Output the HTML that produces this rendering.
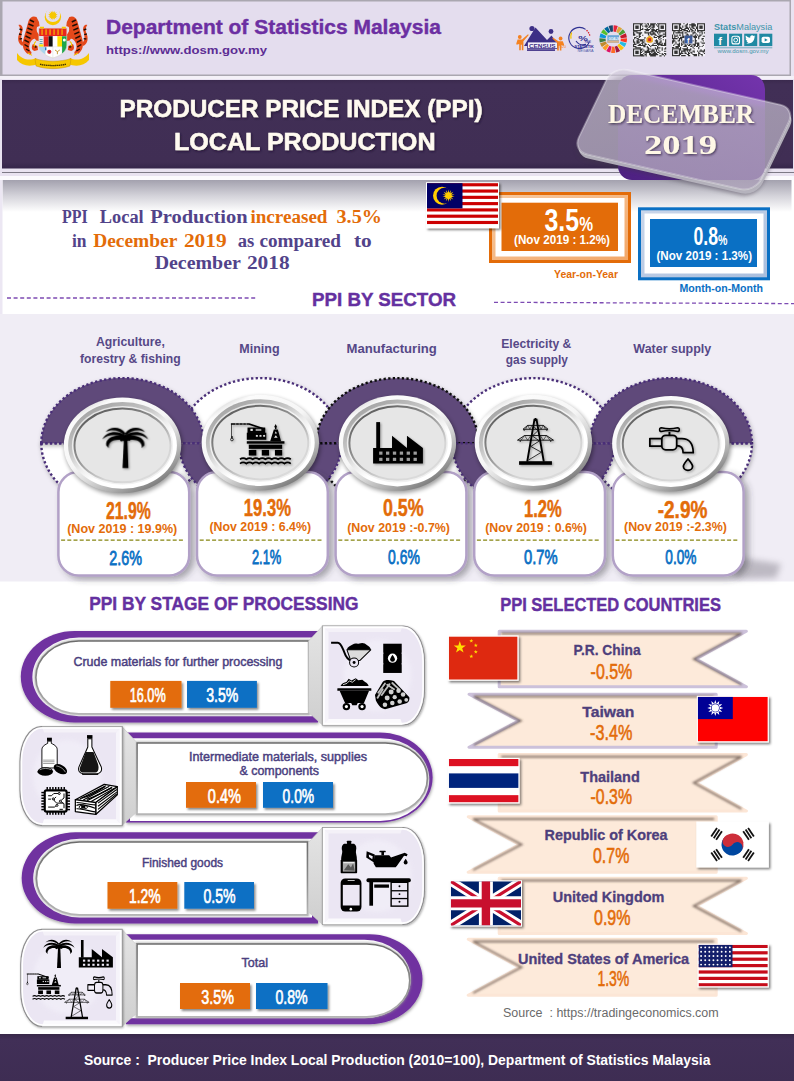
<!DOCTYPE html>
<html lang="en"><head><meta charset="utf-8"><title>Producer Price Index (PPI) Local Production - December 2019</title>
<style>
html,body{margin:0;padding:0;background:#fff;}
body{width:794px;height:1081px;overflow:hidden;}
svg{display:block;}
.ss{font-family:'Liberation Sans','DejaVu Sans',sans-serif;font-weight:bold;}
.rg{font-weight:normal !important;}
.sf{font-family:'Liberation Serif','DejaVu Serif',serif;font-weight:bold;}
</style></head><body>
<svg width="794" height="1081" viewBox="0 0 794 1081">
<defs>
<linearGradient id="gBanner" x1="0" y1="0" x2="0" y2="1"><stop offset="0" stop-color="#3b2a4e"/><stop offset="0.05" stop-color="#412f56"/><stop offset="0.93" stop-color="#402e54"/><stop offset="1" stop-color="#35264a"/></linearGradient>
<linearGradient id="gFoot" x1="0" y1="0" x2="0" y2="1"><stop offset="0" stop-color="#382848"/><stop offset="0.12" stop-color="#412f57"/><stop offset="1" stop-color="#3e2d53"/></linearGradient>
<linearGradient id="gBand" x1="0" y1="0" x2="0" y2="1"><stop offset="0" stop-color="#a3a1ae"/><stop offset="0.5" stop-color="#d4d3da"/><stop offset="1" stop-color="#ffffff"/></linearGradient>
<linearGradient id="gDecP" x1="1" y1="0" x2="0" y2="1"><stop offset="0" stop-color="#7434ad"/><stop offset="1" stop-color="#4c2080"/></linearGradient>
<linearGradient id="gOrFr" x1="0" y1="0" x2="1" y2="1"><stop offset="0" stop-color="#f7c9a0"/><stop offset="1" stop-color="#f2a768"/></linearGradient>
<linearGradient id="gBlFr" x1="0" y1="0" x2="1" y2="1"><stop offset="0" stop-color="#c9d6ea"/><stop offset="1" stop-color="#a9bedd"/></linearGradient>
<linearGradient id="gMedO" x1="0.18" y1="0.05" x2="0.82" y2="0.95"><stop offset="0" stop-color="#d2d2d2"/><stop offset="0.1" stop-color="#fbfbfb"/><stop offset="0.45" stop-color="#f6f6f6"/><stop offset="0.62" stop-color="#dadada"/><stop offset="0.8" stop-color="#aeaeae"/><stop offset="1" stop-color="#707070"/></linearGradient>
<linearGradient id="gMedR" x1="0.18" y1="0.05" x2="0.82" y2="0.95"><stop offset="0" stop-color="#a2a2a2"/><stop offset="0.32" stop-color="#c6c6c6"/><stop offset="0.5" stop-color="#ececec"/><stop offset="0.65" stop-color="#ffffff"/><stop offset="1" stop-color="#ffffff"/></linearGradient>
<linearGradient id="gMedI" x1="0.18" y1="0.05" x2="0.82" y2="0.95"><stop offset="0" stop-color="#e2e2e2"/><stop offset="0.4" stop-color="#f4f4f4"/><stop offset="1" stop-color="#f0f0f0"/></linearGradient>
<linearGradient id="gMedE" x1="0.18" y1="0.05" x2="0.82" y2="0.95"><stop offset="0" stop-color="#5c5c5c"/><stop offset="0.45" stop-color="#9a9a9a"/><stop offset="0.75" stop-color="#d4d4d4"/><stop offset="1" stop-color="#dcdcdc"/></linearGradient>
<linearGradient id="gSilver" x1="0" y1="0" x2="0" y2="1"><stop offset="0" stop-color="#6c6c6c"/><stop offset="0.5" stop-color="#8a8a8a"/><stop offset="1" stop-color="#b5b5b5"/></linearGradient>
<linearGradient id="gTrap" x1="0" y1="0" x2="0" y2="1"><stop offset="0" stop-color="#e4e4e4"/><stop offset="1" stop-color="#cfcfcf"/></linearGradient>
<filter id="blur1" x="-10%" y="-10%" width="120%" height="120%"><feGaussianBlur stdDeviation="0.8"/></filter>
<filter id="blur2" x="-20%" y="-20%" width="140%" height="140%"><feGaussianBlur stdDeviation="2.2"/></filter>
<filter id="tsh" x="-5%" y="-20%" width="110%" height="150%"><feDropShadow dx="1" dy="1.2" stdDeviation="0.9" flood-color="#1a0f26" flood-opacity="0.7"/></filter>
<filter id="fsh" x="-20%" y="-20%" width="150%" height="150%"><feDropShadow dx="1.6" dy="1.8" stdDeviation="1.3" flood-color="#000" flood-opacity="0.5"/></filter>
<filter id="vsh" x="-20%" y="-30%" width="150%" height="180%"><feDropShadow dx="1.6" dy="2" stdDeviation="1.3" flood-color="#000" flood-opacity="0.45"/></filter>
<filter id="ibsh" x="-10%" y="-10%" width="125%" height="125%"><feDropShadow dx="0.8" dy="1" stdDeviation="0.9" flood-color="#000" flood-opacity="0.35"/></filter>
<filter id="ringsh" x="-5%" y="-20%" width="110%" height="150%"><feDropShadow dx="1" dy="2" stdDeviation="2" flood-color="#000" flood-opacity="0.3"/></filter>
<filter id="boxsh" x="-5%" y="-10%" width="115%" height="130%"><feDropShadow dx="4" dy="3" stdDeviation="3" flood-color="#3a3440" flood-opacity="0.4"/></filter>
<filter id="icsh" x="-20%" y="-20%" width="150%" height="150%"><feDropShadow dx="14" dy="14" stdDeviation="12" flood-color="#000" flood-opacity="0.35"/></filter>
<linearGradient id="gGlass" x1="0" y1="0" x2="1" y2="1"><stop offset="0" stop-color="#d2cbdb" stop-opacity="0.66"/><stop offset="1" stop-color="#c6bad4" stop-opacity="0.66"/></linearGradient>
<filter id="pillsh" x="-5%" y="-15%" width="110%" height="135%"><feDropShadow dx="0.5" dy="1.5" stdDeviation="1.6" flood-color="#000" flood-opacity="0.38"/></filter>
<filter id="blur3" x="-30%" y="-50%" width="160%" height="200%"><feGaussianBlur stdDeviation="3.2"/></filter>
</defs>
<rect x="0" y="0" width="794" height="1081" fill="#ffffff"/>
<rect x="0" y="0" width="794" height="178" fill="#e9e3f1"/>
<rect x="0" y="0" width="791" height="76" fill="#aaa7b0"/>
<rect x="2.5" y="1.5" width="787" height="73" fill="#e4ddee"/>
<rect x="0" y="76" width="794" height="3" fill="#f4f1f8"/>
<rect x="2" y="80" width="791" height="88.5" fill="url(#gBanner)"/>
<rect x="2" y="172" width="792" height="1" fill="#7d7986"/>
<rect x="0" y="176" width="794" height="4.5" fill="#fbfafd"/>
<rect x="0" y="180" width="794" height="134" fill="#ffffff"/>
<rect x="2.5" y="180" width="789" height="32" fill="url(#gBand)"/>
<rect x="0" y="180" width="2.5" height="134" fill="#ece7f3"/>
<text class="ss" x="106" y="33.5" font-size="20.5" fill="#6c2fa2" text-anchor="start" textLength="335" lengthAdjust="spacingAndGlyphs" stroke="#6c2fa2" stroke-width="0.4">Department of Statistics Malaysia</text>
<text class="ss" x="106" y="53.5" font-size="11.5" fill="#5c2c94" text-anchor="start" textLength="161" lengthAdjust="spacingAndGlyphs">https://www.dosm.gov.my</text>
<text class="ss" x="119.5" y="117" font-size="24" fill="#fffaf0" text-anchor="start" textLength="363" lengthAdjust="spacingAndGlyphs" filter="url(#tsh)" stroke="#fffaf0" stroke-width="0.5">PRODUCER PRICE INDEX (PPI)</text>
<text class="ss" x="174" y="150" font-size="24.5" fill="#fffaf0" text-anchor="start" textLength="261.5" lengthAdjust="spacingAndGlyphs" filter="url(#tsh)" stroke="#fffaf0" stroke-width="0.5">LOCAL PRODUCTION</text>
<g><path d="M17,53 C22,60 30,61 36,58 L38,64 C30,67 22,66 17,60 Z" fill="#f6c700"/><path d="M89,53 C84,60 76,61 70,58 L68,64 C76,67 84,66 89,60 Z" fill="#f6c700"/><path d="M35,58.5 C45,62 61,62 71,58.5 L70,66 C60,69.5 46,69.5 36,66 Z" fill="#f6c700" stroke="#b8860b" stroke-width="0.4"/><path d="M40,64.2 C47,66 59,66 66,64.2" fill="none" stroke="#3a2a00" stroke-width="1.3" stroke-dasharray="1.4 0.5"/><path d="M36.5,17 C33,15.5 30,17 28.5,21 C27,27 25,33 23.5,39 C22,45 23,50 27,53.5 L31,55 L31.5,52 C29,50 28.5,46 30.5,42 C33,39 35,37.5 36,40.5 L39,41 L39.5,35 C37,33 36,30 37,27 L39.5,26 L39,22 Z" fill="#e4481a"/><path d="M22.5,46 C18,44 17,38 19.5,33 C21,30 20,27 18.5,25 C21,24 23.5,27 22.5,31 C21,35 20.5,40 23.5,43 Z" fill="#e4481a"/><path d="M33,44 C31,47 31.5,50 34.5,51 L38,50 L37.5,46 Z" fill="#e4481a"/><path d="M30,20 l4,2 M28.5,24 l5,2 M27.5,28 l5,2.2 M26.5,32 l5,2.2 M25.5,36 l5,2.4 M24.5,40 l4.5,2.4 M24.5,44.5 l4,2.4 M26,49 l3.4,2 M19.5,29 l2.6,1 M19,34 l2.6,0.6 M19.5,39 l2.6,-0.4 M34,46 l2.5,1.4" stroke="#1e0d04" stroke-width="1.45" fill="none"/><path d="M36,41.5 C34,43 33.5,45 35,46.5 M28,53 l4,2.4" stroke="#f6c700" stroke-width="1.1" fill="none"/><g transform="translate(105.8,0) scale(-1,1)"><path d="M36.5,17 C33,15.5 30,17 28.5,21 C27,27 25,33 23.5,39 C22,45 23,50 27,53.5 L31,55 L31.5,52 C29,50 28.5,46 30.5,42 C33,39 35,37.5 36,40.5 L39,41 L39.5,35 C37,33 36,30 37,27 L39.5,26 L39,22 Z" fill="#e4481a"/><path d="M22.5,46 C18,44 17,38 19.5,33 C21,30 20,27 18.5,25 C21,24 23.5,27 22.5,31 C21,35 20.5,40 23.5,43 Z" fill="#e4481a"/><path d="M33,44 C31,47 31.5,50 34.5,51 L38,50 L37.5,46 Z" fill="#e4481a"/><path d="M30,20 l4,2 M28.5,24 l5,2 M27.5,28 l5,2.2 M26.5,32 l5,2.2 M25.5,36 l5,2.4 M24.5,40 l4.5,2.4 M24.5,44.5 l4,2.4 M26,49 l3.4,2 M19.5,29 l2.6,1 M19,34 l2.6,0.6 M19.5,39 l2.6,-0.4 M34,46 l2.5,1.4" stroke="#1e0d04" stroke-width="1.45" fill="none"/><path d="M36,41.5 C34,43 33.5,45 35,46.5 M28,53 l4,2.4" stroke="#f6c700" stroke-width="1.1" fill="none"/></g><circle cx="52.9" cy="17" r="8.2" fill="#f6c700"/><circle cx="52.9" cy="14.8" r="7.3" fill="#e4ddee"/><polygon points="52.90,10.50 53.57,12.48 55.03,10.99 54.77,13.05 56.73,12.34 55.60,14.10 57.68,14.31 55.90,15.40 57.68,16.49 55.60,16.70 56.73,18.46 54.77,17.75 55.03,19.81 53.57,18.32 52.90,20.30 52.23,18.32 50.77,19.81 51.03,17.75 49.07,18.46 50.20,16.70 48.12,16.49 49.90,15.40 48.12,14.31 50.20,14.10 49.07,12.34 51.03,13.05 50.77,10.99 52.23,12.48" fill="#f6c700"/><path d="M38.9,28.2 H66.8 V45 C66.8,52 60,56 52.9,58 C45.8,56 38.9,52 38.9,45 Z" fill="#ffffff"/><rect x="38.9" y="28.2" width="27.9" height="8" fill="#e8261c"/><rect x="41.5" y="29.3" width="1.1" height="5.6" fill="#f6c700"/><rect x="45.5" y="29.3" width="1.1" height="5.6" fill="#f6c700"/><rect x="49.5" y="29.3" width="1.1" height="5.6" fill="#f6c700"/><rect x="53.5" y="29.3" width="1.1" height="5.6" fill="#f6c700"/><rect x="57.5" y="29.3" width="1.1" height="5.6" fill="#f6c700"/><rect x="61.5" y="29.3" width="1.1" height="5.6" fill="#f6c700"/><rect x="43.4" y="36.2" width="5.2" height="10.6" fill="#e8261c"/><rect x="48.6" y="36.2" width="4.2" height="10.6" fill="#111"/><rect x="52.8" y="36.2" width="4.6" height="10.6" fill="#fff"/><rect x="57.4" y="36.2" width="4.6" height="10.6" fill="#ffe000"/><path d="M38.9,36.2 H43.4 V46.8 H38.9 Z" fill="#dfeaf2"/><path d="M39.6,39.5 h3 M39.6,41.5 h3 M39.6,43.5 h3" stroke="#3a8a9a" stroke-width="0.7"/><rect x="38.9" y="44.4" width="4.5" height="2.4" fill="#ffe000"/><path d="M62,36.2 H66.8 V45 C66.8,49 65,51.5 62,53.6 Z" fill="#1fa64a"/><circle cx="64.3" cy="40" r="1.5" fill="#fff"/><path d="M38.9,46.8 H45.5 V54.6 C42,52.6 38.9,50 38.9,46.8 Z" fill="#a9d4ee"/><path d="M45.5,46.8 H53 V58 C50,57.2 47.5,56 45.5,54.6 Z" fill="#fff" stroke="#ccc" stroke-width="0.3"/><circle cx="49.3" cy="51.8" r="2.1" fill="#d81e2c"/><circle cx="49.3" cy="51.8" r="0.8" fill="#333"/><path d="M53,46.8 H62 V53.6 C59,55.8 56,57.2 53,58 Z" fill="#fff" stroke="#ccc" stroke-width="0.3"/><path d="M55,50 l2.4,1.6 l2.4,-1.6 M57.4,51.6 v2.6" stroke="#b8860b" stroke-width="0.8" fill="none"/><rect x="45" y="47.3" width="1.4" height="3" fill="#2a6fc0"/><path d="M38.9,28.2 H66.8 V45 C66.8,52 60,56 52.9,58 C45.8,56 38.9,52 38.9,45 Z" fill="none" stroke="#d9d4cc" stroke-width="0.5"/><path d="M40,27.6 h4 M61.8,27.6 h4" stroke="#f6c700" stroke-width="1.6"/></g>
<path d="M524,46 L535.5,27.5 L547,40 L551.5,35.5 L559,46 Z" fill="#3d2f86"/><circle cx="532" cy="28.5" r="2.6" fill="#3d2f86"/><circle cx="551" cy="31.5" r="2.4" fill="#3d2f86"/><rect x="527.5" y="42" width="30" height="6.5" fill="#f3f0f8" stroke="#3d2f86" stroke-width="0.8"/><text class="ss" x="529" y="47.6" font-size="5.6" fill="#3d2f86" text-anchor="start" textLength="26.5" lengthAdjust="spacingAndGlyphs">CENSUS</text>
<rect x="527" y="49.3" width="28" height="1.6" fill="#3d2f86"/><circle cx="519.8" cy="37" r="1.9" fill="#f58220"/><path d="M517.6,39.6 h4.4 l6,-5.4 l0.8,0.9 l-5.4,6.2 v9 h-1.6 v-5.6 h-1 v5.6 h-1.6 v-6.4 l-2.6,0.8 l-0.3,-1.2 Z" fill="#f58220"/><circle cx="560.6" cy="38.5" r="1.9" fill="#f58220"/><path d="M562.8,41.2 h-4.4 l-5.4,-3.8 l-0.7,1 l4.9,4.6 v7.6 h1.6 v-4.8 h1 v4.8 h1.6 v-5.6 l2.4,0.8 l0.3,-1.2 Z" fill="#f58220"/><text class="ss rg" x="558" y="48.4" font-size="3.6" fill="#f58220">2020</text><path d="M585.6,29.4 A10.6,10.6 0 1 0 589.4,41.6" fill="none" stroke="#2e3192" stroke-width="1.1"/><path d="M571.6,32.6 A10.6,10.6 0 0 0 571,38.6" fill="none" stroke="#f4c400" stroke-width="1.4"/><path d="M586.5,30.2 A10.6,10.6 0 0 1 589.8,35.6" fill="none" stroke="#d8232a" stroke-width="1.3" stroke-dasharray="1.5 1"/><text class="ss" x="578.2" y="40.6" font-size="7.6" fill="#2e3192" text-anchor="start" textLength="9.6" lengthAdjust="spacingAndGlyphs">%</text>
<path d="M576,41 C578,44 582,45.6 586,44.4" fill="none" stroke="#2e3192" stroke-width="1.1"/><text class="ss rg" x="584.8" y="43.4" font-size="2.6" fill="#2e3192">HARI</text><text class="ss" x="574.6" y="47.8" font-size="4.1" fill="#2e3192" text-anchor="start" textLength="19.2" lengthAdjust="spacingAndGlyphs">STATISTIK</text>
<text class="ss rg" x="577.6" y="51.8" font-size="3.4" fill="#4a5aa8" textLength="16" lengthAdjust="spacingAndGlyphs">NEGARA</text><path d="M613.61,25.31 A13.8,13.8 0 0 1 617.80,26.09 L615.73,31.93 A7.6,7.6 0 0 0 613.43,31.50 Z" fill="#e5243b"/><path d="M618.57,26.39 A13.8,13.8 0 0 1 622.19,28.63 L618.15,33.33 A7.6,7.6 0 0 0 616.16,32.10 Z" fill="#dda63a"/><path d="M622.80,29.19 A13.8,13.8 0 0 1 625.36,32.58 L619.90,35.51 A7.6,7.6 0 0 0 618.49,33.64 Z" fill="#4c9f38"/><path d="M625.73,33.32 A13.8,13.8 0 0 1 626.90,37.42 L620.74,38.17 A7.6,7.6 0 0 0 620.10,35.92 Z" fill="#c5192d"/><path d="M626.97,38.24 A13.8,13.8 0 0 1 626.58,42.48 L620.57,40.96 A7.6,7.6 0 0 0 620.79,38.63 Z" fill="#ff3a21"/><path d="M626.35,43.27 A13.8,13.8 0 0 1 624.46,47.08 L619.40,43.50 A7.6,7.6 0 0 0 620.44,41.40 Z" fill="#26bde2"/><path d="M623.96,47.74 A13.8,13.8 0 0 1 620.81,50.61 L617.39,45.44 A7.6,7.6 0 0 0 619.12,43.86 Z" fill="#fcc30b"/><path d="M620.11,51.05 A13.8,13.8 0 0 1 616.14,52.58 L614.82,46.53 A7.6,7.6 0 0 0 617.01,45.68 Z" fill="#a21942"/><path d="M615.33,52.73 A13.8,13.8 0 0 1 611.07,52.73 L612.03,46.61 A7.6,7.6 0 0 0 614.37,46.61 Z" fill="#fd6925"/><path d="M610.26,52.58 A13.8,13.8 0 0 1 606.29,51.05 L609.39,45.68 A7.6,7.6 0 0 0 611.58,46.53 Z" fill="#dd1367"/><path d="M605.59,50.61 A13.8,13.8 0 0 1 602.44,47.74 L607.28,43.86 A7.6,7.6 0 0 0 609.01,45.44 Z" fill="#fd9d24"/><path d="M601.94,47.08 A13.8,13.8 0 0 1 600.05,43.27 L605.96,41.40 A7.6,7.6 0 0 0 607.00,43.50 Z" fill="#bf8b2e"/><path d="M599.82,42.48 A13.8,13.8 0 0 1 599.43,38.24 L605.61,38.63 A7.6,7.6 0 0 0 605.83,40.96 Z" fill="#3f7e44"/><path d="M599.50,37.42 A13.8,13.8 0 0 1 600.67,33.32 L606.30,35.92 A7.6,7.6 0 0 0 605.66,38.17 Z" fill="#0a97d9"/><path d="M601.04,32.58 A13.8,13.8 0 0 1 603.60,29.19 L607.91,33.64 A7.6,7.6 0 0 0 606.50,35.51 Z" fill="#56c02b"/><path d="M604.21,28.63 A13.8,13.8 0 0 1 607.83,26.39 L610.24,32.10 A7.6,7.6 0 0 0 608.25,33.33 Z" fill="#00689d"/><path d="M608.60,26.09 A13.8,13.8 0 0 1 612.79,25.31 L612.97,31.50 A7.6,7.6 0 0 0 610.67,31.93 Z" fill="#19486a"/><rect x="607.4" y="35.2" width="11.6" height="7.6" fill="#6aa6d8"/><rect x="607.4" y="40.4" width="11.6" height="2.4" fill="#d9b38c"/><text class="ss" x="608.4" y="39.6" font-size="3" fill="#fff">GOALS</text><rect x="633" y="23.2" width="33.2" height="33.2" fill="#f4f2f7"/><path d="M641.01,23.20h1.14v1.14h-1.14zM642.16,23.20h1.14v1.14h-1.14zM644.45,23.20h1.14v1.14h-1.14zM646.74,23.20h1.14v1.14h-1.14zM647.88,23.20h1.14v1.14h-1.14zM650.17,23.20h1.14v1.14h-1.14zM651.32,23.20h1.14v1.14h-1.14zM652.46,23.20h1.14v1.14h-1.14zM653.61,23.20h1.14v1.14h-1.14zM654.75,23.20h1.14v1.14h-1.14zM657.04,23.20h1.14v1.14h-1.14zM641.01,24.34h1.14v1.14h-1.14zM645.59,24.34h1.14v1.14h-1.14zM647.88,24.34h1.14v1.14h-1.14zM650.17,24.34h1.14v1.14h-1.14zM651.32,24.34h1.14v1.14h-1.14zM652.46,24.34h1.14v1.14h-1.14zM653.61,24.34h1.14v1.14h-1.14zM655.90,24.34h1.14v1.14h-1.14zM642.16,25.49h1.14v1.14h-1.14zM644.45,25.49h1.14v1.14h-1.14zM645.59,25.49h1.14v1.14h-1.14zM646.74,25.49h1.14v1.14h-1.14zM649.03,25.49h1.14v1.14h-1.14zM650.17,25.49h1.14v1.14h-1.14zM652.46,25.49h1.14v1.14h-1.14zM653.61,25.49h1.14v1.14h-1.14zM657.04,25.49h1.14v1.14h-1.14zM645.59,26.63h1.14v1.14h-1.14zM647.88,26.63h1.14v1.14h-1.14zM649.03,26.63h1.14v1.14h-1.14zM651.32,26.63h1.14v1.14h-1.14zM652.46,26.63h1.14v1.14h-1.14zM653.61,26.63h1.14v1.14h-1.14zM642.16,27.78h1.14v1.14h-1.14zM646.74,27.78h1.14v1.14h-1.14zM650.17,27.78h1.14v1.14h-1.14zM652.46,27.78h1.14v1.14h-1.14zM641.01,28.92h1.14v1.14h-1.14zM642.16,28.92h1.14v1.14h-1.14zM644.45,28.92h1.14v1.14h-1.14zM645.59,28.92h1.14v1.14h-1.14zM646.74,28.92h1.14v1.14h-1.14zM647.88,28.92h1.14v1.14h-1.14zM649.03,28.92h1.14v1.14h-1.14zM651.32,28.92h1.14v1.14h-1.14zM652.46,28.92h1.14v1.14h-1.14zM653.61,28.92h1.14v1.14h-1.14zM655.90,28.92h1.14v1.14h-1.14zM657.04,28.92h1.14v1.14h-1.14zM645.59,30.07h1.14v1.14h-1.14zM646.74,30.07h1.14v1.14h-1.14zM647.88,30.07h1.14v1.14h-1.14zM651.32,30.07h1.14v1.14h-1.14zM652.46,30.07h1.14v1.14h-1.14zM653.61,30.07h1.14v1.14h-1.14zM654.75,30.07h1.14v1.14h-1.14zM655.90,30.07h1.14v1.14h-1.14zM633.00,31.21h1.14v1.14h-1.14zM634.14,31.21h1.14v1.14h-1.14zM635.29,31.21h1.14v1.14h-1.14zM636.43,31.21h1.14v1.14h-1.14zM644.45,31.21h1.14v1.14h-1.14zM650.17,31.21h1.14v1.14h-1.14zM651.32,31.21h1.14v1.14h-1.14zM652.46,31.21h1.14v1.14h-1.14zM654.75,31.21h1.14v1.14h-1.14zM655.90,31.21h1.14v1.14h-1.14zM657.04,31.21h1.14v1.14h-1.14zM658.19,31.21h1.14v1.14h-1.14zM659.33,31.21h1.14v1.14h-1.14zM660.48,31.21h1.14v1.14h-1.14zM661.62,31.21h1.14v1.14h-1.14zM662.77,31.21h1.14v1.14h-1.14zM663.91,31.21h1.14v1.14h-1.14zM665.06,31.21h1.14v1.14h-1.14zM633.00,32.36h1.14v1.14h-1.14zM636.43,32.36h1.14v1.14h-1.14zM637.58,32.36h1.14v1.14h-1.14zM638.72,32.36h1.14v1.14h-1.14zM639.87,32.36h1.14v1.14h-1.14zM641.01,32.36h1.14v1.14h-1.14zM644.45,32.36h1.14v1.14h-1.14zM645.59,32.36h1.14v1.14h-1.14zM646.74,32.36h1.14v1.14h-1.14zM647.88,32.36h1.14v1.14h-1.14zM649.03,32.36h1.14v1.14h-1.14zM650.17,32.36h1.14v1.14h-1.14zM652.46,32.36h1.14v1.14h-1.14zM653.61,32.36h1.14v1.14h-1.14zM657.04,32.36h1.14v1.14h-1.14zM659.33,32.36h1.14v1.14h-1.14zM665.06,32.36h1.14v1.14h-1.14zM633.00,33.50h1.14v1.14h-1.14zM634.14,33.50h1.14v1.14h-1.14zM638.72,33.50h1.14v1.14h-1.14zM639.87,33.50h1.14v1.14h-1.14zM647.88,33.50h1.14v1.14h-1.14zM650.17,33.50h1.14v1.14h-1.14zM651.32,33.50h1.14v1.14h-1.14zM652.46,33.50h1.14v1.14h-1.14zM653.61,33.50h1.14v1.14h-1.14zM654.75,33.50h1.14v1.14h-1.14zM658.19,33.50h1.14v1.14h-1.14zM662.77,33.50h1.14v1.14h-1.14zM663.91,33.50h1.14v1.14h-1.14zM665.06,33.50h1.14v1.14h-1.14zM633.00,34.65h1.14v1.14h-1.14zM634.14,34.65h1.14v1.14h-1.14zM638.72,34.65h1.14v1.14h-1.14zM642.16,34.65h1.14v1.14h-1.14zM647.88,34.65h1.14v1.14h-1.14zM649.03,34.65h1.14v1.14h-1.14zM651.32,34.65h1.14v1.14h-1.14zM654.75,34.65h1.14v1.14h-1.14zM655.90,34.65h1.14v1.14h-1.14zM659.33,34.65h1.14v1.14h-1.14zM660.48,34.65h1.14v1.14h-1.14zM661.62,34.65h1.14v1.14h-1.14zM665.06,34.65h1.14v1.14h-1.14zM636.43,35.79h1.14v1.14h-1.14zM638.72,35.79h1.14v1.14h-1.14zM639.87,35.79h1.14v1.14h-1.14zM653.61,35.79h1.14v1.14h-1.14zM657.04,35.79h1.14v1.14h-1.14zM658.19,35.79h1.14v1.14h-1.14zM659.33,35.79h1.14v1.14h-1.14zM660.48,35.79h1.14v1.14h-1.14zM662.77,35.79h1.14v1.14h-1.14zM663.91,35.79h1.14v1.14h-1.14zM665.06,35.79h1.14v1.14h-1.14zM634.14,36.94h1.14v1.14h-1.14zM635.29,36.94h1.14v1.14h-1.14zM638.72,36.94h1.14v1.14h-1.14zM644.45,36.94h1.14v1.14h-1.14zM653.61,36.94h1.14v1.14h-1.14zM654.75,36.94h1.14v1.14h-1.14zM655.90,36.94h1.14v1.14h-1.14zM658.19,36.94h1.14v1.14h-1.14zM659.33,36.94h1.14v1.14h-1.14zM662.77,36.94h1.14v1.14h-1.14zM634.14,38.08h1.14v1.14h-1.14zM636.43,38.08h1.14v1.14h-1.14zM637.58,38.08h1.14v1.14h-1.14zM644.45,38.08h1.14v1.14h-1.14zM658.19,38.08h1.14v1.14h-1.14zM660.48,38.08h1.14v1.14h-1.14zM633.00,39.23h1.14v1.14h-1.14zM637.58,39.23h1.14v1.14h-1.14zM638.72,39.23h1.14v1.14h-1.14zM639.87,39.23h1.14v1.14h-1.14zM641.01,39.23h1.14v1.14h-1.14zM642.16,39.23h1.14v1.14h-1.14zM643.30,39.23h1.14v1.14h-1.14zM655.90,39.23h1.14v1.14h-1.14zM659.33,39.23h1.14v1.14h-1.14zM662.77,39.23h1.14v1.14h-1.14zM665.06,39.23h1.14v1.14h-1.14zM633.00,40.37h1.14v1.14h-1.14zM636.43,40.37h1.14v1.14h-1.14zM637.58,40.37h1.14v1.14h-1.14zM639.87,40.37h1.14v1.14h-1.14zM641.01,40.37h1.14v1.14h-1.14zM642.16,40.37h1.14v1.14h-1.14zM644.45,40.37h1.14v1.14h-1.14zM654.75,40.37h1.14v1.14h-1.14zM655.90,40.37h1.14v1.14h-1.14zM657.04,40.37h1.14v1.14h-1.14zM660.48,40.37h1.14v1.14h-1.14zM665.06,40.37h1.14v1.14h-1.14zM633.00,41.52h1.14v1.14h-1.14zM634.14,41.52h1.14v1.14h-1.14zM636.43,41.52h1.14v1.14h-1.14zM637.58,41.52h1.14v1.14h-1.14zM638.72,41.52h1.14v1.14h-1.14zM642.16,41.52h1.14v1.14h-1.14zM643.30,41.52h1.14v1.14h-1.14zM655.90,41.52h1.14v1.14h-1.14zM657.04,41.52h1.14v1.14h-1.14zM659.33,41.52h1.14v1.14h-1.14zM660.48,41.52h1.14v1.14h-1.14zM665.06,41.52h1.14v1.14h-1.14zM634.14,42.66h1.14v1.14h-1.14zM636.43,42.66h1.14v1.14h-1.14zM637.58,42.66h1.14v1.14h-1.14zM641.01,42.66h1.14v1.14h-1.14zM642.16,42.66h1.14v1.14h-1.14zM644.45,42.66h1.14v1.14h-1.14zM653.61,42.66h1.14v1.14h-1.14zM654.75,42.66h1.14v1.14h-1.14zM655.90,42.66h1.14v1.14h-1.14zM657.04,42.66h1.14v1.14h-1.14zM658.19,42.66h1.14v1.14h-1.14zM659.33,42.66h1.14v1.14h-1.14zM661.62,42.66h1.14v1.14h-1.14zM663.91,42.66h1.14v1.14h-1.14zM665.06,42.66h1.14v1.14h-1.14zM633.00,43.81h1.14v1.14h-1.14zM634.14,43.81h1.14v1.14h-1.14zM635.29,43.81h1.14v1.14h-1.14zM638.72,43.81h1.14v1.14h-1.14zM639.87,43.81h1.14v1.14h-1.14zM642.16,43.81h1.14v1.14h-1.14zM644.45,43.81h1.14v1.14h-1.14zM645.59,43.81h1.14v1.14h-1.14zM647.88,43.81h1.14v1.14h-1.14zM652.46,43.81h1.14v1.14h-1.14zM657.04,43.81h1.14v1.14h-1.14zM658.19,43.81h1.14v1.14h-1.14zM659.33,43.81h1.14v1.14h-1.14zM660.48,43.81h1.14v1.14h-1.14zM661.62,43.81h1.14v1.14h-1.14zM663.91,43.81h1.14v1.14h-1.14zM665.06,43.81h1.14v1.14h-1.14zM633.00,44.95h1.14v1.14h-1.14zM637.58,44.95h1.14v1.14h-1.14zM638.72,44.95h1.14v1.14h-1.14zM639.87,44.95h1.14v1.14h-1.14zM641.01,44.95h1.14v1.14h-1.14zM642.16,44.95h1.14v1.14h-1.14zM643.30,44.95h1.14v1.14h-1.14zM644.45,44.95h1.14v1.14h-1.14zM649.03,44.95h1.14v1.14h-1.14zM651.32,44.95h1.14v1.14h-1.14zM652.46,44.95h1.14v1.14h-1.14zM653.61,44.95h1.14v1.14h-1.14zM654.75,44.95h1.14v1.14h-1.14zM655.90,44.95h1.14v1.14h-1.14zM658.19,44.95h1.14v1.14h-1.14zM660.48,44.95h1.14v1.14h-1.14zM661.62,44.95h1.14v1.14h-1.14zM662.77,44.95h1.14v1.14h-1.14zM663.91,44.95h1.14v1.14h-1.14zM665.06,44.95h1.14v1.14h-1.14zM633.00,46.10h1.14v1.14h-1.14zM634.14,46.10h1.14v1.14h-1.14zM635.29,46.10h1.14v1.14h-1.14zM643.30,46.10h1.14v1.14h-1.14zM644.45,46.10h1.14v1.14h-1.14zM646.74,46.10h1.14v1.14h-1.14zM650.17,46.10h1.14v1.14h-1.14zM657.04,46.10h1.14v1.14h-1.14zM635.29,47.24h1.14v1.14h-1.14zM636.43,47.24h1.14v1.14h-1.14zM637.58,47.24h1.14v1.14h-1.14zM638.72,47.24h1.14v1.14h-1.14zM639.87,47.24h1.14v1.14h-1.14zM646.74,47.24h1.14v1.14h-1.14zM647.88,47.24h1.14v1.14h-1.14zM654.75,47.24h1.14v1.14h-1.14zM657.04,47.24h1.14v1.14h-1.14zM658.19,47.24h1.14v1.14h-1.14zM659.33,47.24h1.14v1.14h-1.14zM661.62,47.24h1.14v1.14h-1.14zM665.06,47.24h1.14v1.14h-1.14zM641.01,48.39h1.14v1.14h-1.14zM642.16,48.39h1.14v1.14h-1.14zM647.88,48.39h1.14v1.14h-1.14zM649.03,48.39h1.14v1.14h-1.14zM650.17,48.39h1.14v1.14h-1.14zM652.46,48.39h1.14v1.14h-1.14zM654.75,48.39h1.14v1.14h-1.14zM655.90,48.39h1.14v1.14h-1.14zM657.04,48.39h1.14v1.14h-1.14zM661.62,48.39h1.14v1.14h-1.14zM663.91,48.39h1.14v1.14h-1.14zM665.06,48.39h1.14v1.14h-1.14zM641.01,49.53h1.14v1.14h-1.14zM643.30,49.53h1.14v1.14h-1.14zM646.74,49.53h1.14v1.14h-1.14zM647.88,49.53h1.14v1.14h-1.14zM651.32,49.53h1.14v1.14h-1.14zM652.46,49.53h1.14v1.14h-1.14zM653.61,49.53h1.14v1.14h-1.14zM655.90,49.53h1.14v1.14h-1.14zM658.19,49.53h1.14v1.14h-1.14zM661.62,49.53h1.14v1.14h-1.14zM642.16,50.68h1.14v1.14h-1.14zM644.45,50.68h1.14v1.14h-1.14zM645.59,50.68h1.14v1.14h-1.14zM646.74,50.68h1.14v1.14h-1.14zM647.88,50.68h1.14v1.14h-1.14zM649.03,50.68h1.14v1.14h-1.14zM650.17,50.68h1.14v1.14h-1.14zM651.32,50.68h1.14v1.14h-1.14zM652.46,50.68h1.14v1.14h-1.14zM653.61,50.68h1.14v1.14h-1.14zM655.90,50.68h1.14v1.14h-1.14zM659.33,50.68h1.14v1.14h-1.14zM663.91,50.68h1.14v1.14h-1.14zM665.06,50.68h1.14v1.14h-1.14zM641.01,51.82h1.14v1.14h-1.14zM644.45,51.82h1.14v1.14h-1.14zM645.59,51.82h1.14v1.14h-1.14zM646.74,51.82h1.14v1.14h-1.14zM647.88,51.82h1.14v1.14h-1.14zM649.03,51.82h1.14v1.14h-1.14zM651.32,51.82h1.14v1.14h-1.14zM653.61,51.82h1.14v1.14h-1.14zM654.75,51.82h1.14v1.14h-1.14zM657.04,51.82h1.14v1.14h-1.14zM658.19,51.82h1.14v1.14h-1.14zM643.30,52.97h1.14v1.14h-1.14zM645.59,52.97h1.14v1.14h-1.14zM649.03,52.97h1.14v1.14h-1.14zM650.17,52.97h1.14v1.14h-1.14zM652.46,52.97h1.14v1.14h-1.14zM653.61,52.97h1.14v1.14h-1.14zM654.75,52.97h1.14v1.14h-1.14zM655.90,52.97h1.14v1.14h-1.14zM659.33,52.97h1.14v1.14h-1.14zM661.62,52.97h1.14v1.14h-1.14zM663.91,52.97h1.14v1.14h-1.14zM665.06,52.97h1.14v1.14h-1.14zM641.01,54.11h1.14v1.14h-1.14zM642.16,54.11h1.14v1.14h-1.14zM644.45,54.11h1.14v1.14h-1.14zM645.59,54.11h1.14v1.14h-1.14zM649.03,54.11h1.14v1.14h-1.14zM650.17,54.11h1.14v1.14h-1.14zM651.32,54.11h1.14v1.14h-1.14zM652.46,54.11h1.14v1.14h-1.14zM653.61,54.11h1.14v1.14h-1.14zM654.75,54.11h1.14v1.14h-1.14zM655.90,54.11h1.14v1.14h-1.14zM657.04,54.11h1.14v1.14h-1.14zM661.62,54.11h1.14v1.14h-1.14zM662.77,54.11h1.14v1.14h-1.14zM665.06,54.11h1.14v1.14h-1.14zM641.01,55.26h1.14v1.14h-1.14zM642.16,55.26h1.14v1.14h-1.14zM643.30,55.26h1.14v1.14h-1.14zM645.59,55.26h1.14v1.14h-1.14zM650.17,55.26h1.14v1.14h-1.14zM651.32,55.26h1.14v1.14h-1.14zM652.46,55.26h1.14v1.14h-1.14zM653.61,55.26h1.14v1.14h-1.14zM654.75,55.26h1.14v1.14h-1.14zM659.33,55.26h1.14v1.14h-1.14zM660.48,55.26h1.14v1.14h-1.14zM663.91,55.26h1.14v1.14h-1.14z" fill="#333"/><rect x="633.57" y="23.77" width="6.87" height="6.87" fill="none" stroke="#333" stroke-width="1.14"/><rect x="635.29" y="25.49" width="3.43" height="3.43" fill="#333"/><rect x="658.76" y="23.77" width="6.87" height="6.87" fill="none" stroke="#333" stroke-width="1.14"/><rect x="660.48" y="25.49" width="3.43" height="3.43" fill="#333"/><rect x="633.57" y="48.96" width="6.87" height="6.87" fill="none" stroke="#333" stroke-width="1.14"/><rect x="635.29" y="50.68" width="3.43" height="3.43" fill="#333"/><circle cx="649.6" cy="39.8" r="4.4" fill="#f4f2f7"/><path d="M646.4,38 l3.2,-2.4 l3.2,2.4 v3.8 c-1,1.4 -5.4,1.4 -6.4,0 Z" fill="#e9a21c"/><rect x="648.2" y="38.2" width="2.8" height="3" fill="#d8232a"/><rect x="672" y="23.2" width="33" height="33" fill="#f4f2f7"/><path d="M679.97,23.20h1.14v1.14h-1.14zM683.38,23.20h1.14v1.14h-1.14zM686.79,23.20h1.14v1.14h-1.14zM691.34,23.20h1.14v1.14h-1.14zM692.48,23.20h1.14v1.14h-1.14zM693.62,23.20h1.14v1.14h-1.14zM679.97,24.34h1.14v1.14h-1.14zM685.66,24.34h1.14v1.14h-1.14zM686.79,24.34h1.14v1.14h-1.14zM689.07,24.34h1.14v1.14h-1.14zM690.21,24.34h1.14v1.14h-1.14zM691.34,24.34h1.14v1.14h-1.14zM692.48,24.34h1.14v1.14h-1.14zM693.62,24.34h1.14v1.14h-1.14zM694.76,24.34h1.14v1.14h-1.14zM682.24,25.48h1.14v1.14h-1.14zM684.52,25.48h1.14v1.14h-1.14zM685.66,25.48h1.14v1.14h-1.14zM691.34,25.48h1.14v1.14h-1.14zM692.48,25.48h1.14v1.14h-1.14zM693.62,25.48h1.14v1.14h-1.14zM694.76,25.48h1.14v1.14h-1.14zM679.97,26.61h1.14v1.14h-1.14zM682.24,26.61h1.14v1.14h-1.14zM685.66,26.61h1.14v1.14h-1.14zM686.79,26.61h1.14v1.14h-1.14zM689.07,26.61h1.14v1.14h-1.14zM691.34,26.61h1.14v1.14h-1.14zM692.48,26.61h1.14v1.14h-1.14zM695.90,26.61h1.14v1.14h-1.14zM679.97,27.75h1.14v1.14h-1.14zM681.10,27.75h1.14v1.14h-1.14zM684.52,27.75h1.14v1.14h-1.14zM685.66,27.75h1.14v1.14h-1.14zM686.79,27.75h1.14v1.14h-1.14zM687.93,27.75h1.14v1.14h-1.14zM690.21,27.75h1.14v1.14h-1.14zM692.48,27.75h1.14v1.14h-1.14zM693.62,27.75h1.14v1.14h-1.14zM695.90,27.75h1.14v1.14h-1.14zM681.10,28.89h1.14v1.14h-1.14zM682.24,28.89h1.14v1.14h-1.14zM683.38,28.89h1.14v1.14h-1.14zM684.52,28.89h1.14v1.14h-1.14zM687.93,28.89h1.14v1.14h-1.14zM690.21,28.89h1.14v1.14h-1.14zM691.34,28.89h1.14v1.14h-1.14zM694.76,28.89h1.14v1.14h-1.14zM679.97,30.03h1.14v1.14h-1.14zM681.10,30.03h1.14v1.14h-1.14zM683.38,30.03h1.14v1.14h-1.14zM684.52,30.03h1.14v1.14h-1.14zM685.66,30.03h1.14v1.14h-1.14zM686.79,30.03h1.14v1.14h-1.14zM689.07,30.03h1.14v1.14h-1.14zM691.34,30.03h1.14v1.14h-1.14zM692.48,30.03h1.14v1.14h-1.14zM694.76,30.03h1.14v1.14h-1.14zM673.14,31.17h1.14v1.14h-1.14zM674.28,31.17h1.14v1.14h-1.14zM677.69,31.17h1.14v1.14h-1.14zM678.83,31.17h1.14v1.14h-1.14zM682.24,31.17h1.14v1.14h-1.14zM686.79,31.17h1.14v1.14h-1.14zM687.93,31.17h1.14v1.14h-1.14zM689.07,31.17h1.14v1.14h-1.14zM691.34,31.17h1.14v1.14h-1.14zM693.62,31.17h1.14v1.14h-1.14zM697.03,31.17h1.14v1.14h-1.14zM698.17,31.17h1.14v1.14h-1.14zM700.45,31.17h1.14v1.14h-1.14zM701.59,31.17h1.14v1.14h-1.14zM673.14,32.30h1.14v1.14h-1.14zM675.41,32.30h1.14v1.14h-1.14zM676.55,32.30h1.14v1.14h-1.14zM677.69,32.30h1.14v1.14h-1.14zM678.83,32.30h1.14v1.14h-1.14zM679.97,32.30h1.14v1.14h-1.14zM681.10,32.30h1.14v1.14h-1.14zM682.24,32.30h1.14v1.14h-1.14zM684.52,32.30h1.14v1.14h-1.14zM685.66,32.30h1.14v1.14h-1.14zM692.48,32.30h1.14v1.14h-1.14zM693.62,32.30h1.14v1.14h-1.14zM694.76,32.30h1.14v1.14h-1.14zM699.31,32.30h1.14v1.14h-1.14zM701.59,32.30h1.14v1.14h-1.14zM703.86,32.30h1.14v1.14h-1.14zM673.14,33.44h1.14v1.14h-1.14zM682.24,33.44h1.14v1.14h-1.14zM686.79,33.44h1.14v1.14h-1.14zM692.48,33.44h1.14v1.14h-1.14zM695.90,33.44h1.14v1.14h-1.14zM701.59,33.44h1.14v1.14h-1.14zM672.00,34.58h1.14v1.14h-1.14zM674.28,34.58h1.14v1.14h-1.14zM676.55,34.58h1.14v1.14h-1.14zM678.83,34.58h1.14v1.14h-1.14zM679.97,34.58h1.14v1.14h-1.14zM682.24,34.58h1.14v1.14h-1.14zM685.66,34.58h1.14v1.14h-1.14zM686.79,34.58h1.14v1.14h-1.14zM687.93,34.58h1.14v1.14h-1.14zM690.21,34.58h1.14v1.14h-1.14zM691.34,34.58h1.14v1.14h-1.14zM694.76,34.58h1.14v1.14h-1.14zM697.03,34.58h1.14v1.14h-1.14zM699.31,34.58h1.14v1.14h-1.14zM700.45,34.58h1.14v1.14h-1.14zM672.00,35.72h1.14v1.14h-1.14zM674.28,35.72h1.14v1.14h-1.14zM675.41,35.72h1.14v1.14h-1.14zM676.55,35.72h1.14v1.14h-1.14zM682.24,35.72h1.14v1.14h-1.14zM683.38,35.72h1.14v1.14h-1.14zM692.48,35.72h1.14v1.14h-1.14zM693.62,35.72h1.14v1.14h-1.14zM694.76,35.72h1.14v1.14h-1.14zM695.90,35.72h1.14v1.14h-1.14zM698.17,35.72h1.14v1.14h-1.14zM699.31,35.72h1.14v1.14h-1.14zM702.72,35.72h1.14v1.14h-1.14zM703.86,35.72h1.14v1.14h-1.14zM672.00,36.86h1.14v1.14h-1.14zM674.28,36.86h1.14v1.14h-1.14zM677.69,36.86h1.14v1.14h-1.14zM679.97,36.86h1.14v1.14h-1.14zM681.10,36.86h1.14v1.14h-1.14zM682.24,36.86h1.14v1.14h-1.14zM683.38,36.86h1.14v1.14h-1.14zM693.62,36.86h1.14v1.14h-1.14zM694.76,36.86h1.14v1.14h-1.14zM695.90,36.86h1.14v1.14h-1.14zM698.17,36.86h1.14v1.14h-1.14zM672.00,37.99h1.14v1.14h-1.14zM673.14,37.99h1.14v1.14h-1.14zM674.28,37.99h1.14v1.14h-1.14zM675.41,37.99h1.14v1.14h-1.14zM676.55,37.99h1.14v1.14h-1.14zM678.83,37.99h1.14v1.14h-1.14zM679.97,37.99h1.14v1.14h-1.14zM681.10,37.99h1.14v1.14h-1.14zM694.76,37.99h1.14v1.14h-1.14zM698.17,37.99h1.14v1.14h-1.14zM701.59,37.99h1.14v1.14h-1.14zM702.72,37.99h1.14v1.14h-1.14zM673.14,39.13h1.14v1.14h-1.14zM678.83,39.13h1.14v1.14h-1.14zM681.10,39.13h1.14v1.14h-1.14zM694.76,39.13h1.14v1.14h-1.14zM701.59,39.13h1.14v1.14h-1.14zM672.00,40.27h1.14v1.14h-1.14zM673.14,40.27h1.14v1.14h-1.14zM674.28,40.27h1.14v1.14h-1.14zM677.69,40.27h1.14v1.14h-1.14zM678.83,40.27h1.14v1.14h-1.14zM681.10,40.27h1.14v1.14h-1.14zM683.38,40.27h1.14v1.14h-1.14zM692.48,40.27h1.14v1.14h-1.14zM694.76,40.27h1.14v1.14h-1.14zM695.90,40.27h1.14v1.14h-1.14zM702.72,40.27h1.14v1.14h-1.14zM672.00,41.41h1.14v1.14h-1.14zM673.14,41.41h1.14v1.14h-1.14zM675.41,41.41h1.14v1.14h-1.14zM682.24,41.41h1.14v1.14h-1.14zM683.38,41.41h1.14v1.14h-1.14zM694.76,41.41h1.14v1.14h-1.14zM700.45,41.41h1.14v1.14h-1.14zM672.00,42.54h1.14v1.14h-1.14zM675.41,42.54h1.14v1.14h-1.14zM678.83,42.54h1.14v1.14h-1.14zM681.10,42.54h1.14v1.14h-1.14zM683.38,42.54h1.14v1.14h-1.14zM694.76,42.54h1.14v1.14h-1.14zM695.90,42.54h1.14v1.14h-1.14zM697.03,42.54h1.14v1.14h-1.14zM698.17,42.54h1.14v1.14h-1.14zM701.59,42.54h1.14v1.14h-1.14zM702.72,42.54h1.14v1.14h-1.14zM703.86,42.54h1.14v1.14h-1.14zM674.28,43.68h1.14v1.14h-1.14zM676.55,43.68h1.14v1.14h-1.14zM677.69,43.68h1.14v1.14h-1.14zM678.83,43.68h1.14v1.14h-1.14zM681.10,43.68h1.14v1.14h-1.14zM682.24,43.68h1.14v1.14h-1.14zM684.52,43.68h1.14v1.14h-1.14zM686.79,43.68h1.14v1.14h-1.14zM689.07,43.68h1.14v1.14h-1.14zM690.21,43.68h1.14v1.14h-1.14zM692.48,43.68h1.14v1.14h-1.14zM693.62,43.68h1.14v1.14h-1.14zM694.76,43.68h1.14v1.14h-1.14zM697.03,43.68h1.14v1.14h-1.14zM698.17,43.68h1.14v1.14h-1.14zM673.14,44.82h1.14v1.14h-1.14zM677.69,44.82h1.14v1.14h-1.14zM678.83,44.82h1.14v1.14h-1.14zM681.10,44.82h1.14v1.14h-1.14zM684.52,44.82h1.14v1.14h-1.14zM685.66,44.82h1.14v1.14h-1.14zM687.93,44.82h1.14v1.14h-1.14zM689.07,44.82h1.14v1.14h-1.14zM691.34,44.82h1.14v1.14h-1.14zM693.62,44.82h1.14v1.14h-1.14zM694.76,44.82h1.14v1.14h-1.14zM697.03,44.82h1.14v1.14h-1.14zM698.17,44.82h1.14v1.14h-1.14zM702.72,44.82h1.14v1.14h-1.14zM675.41,45.96h1.14v1.14h-1.14zM676.55,45.96h1.14v1.14h-1.14zM677.69,45.96h1.14v1.14h-1.14zM678.83,45.96h1.14v1.14h-1.14zM683.38,45.96h1.14v1.14h-1.14zM684.52,45.96h1.14v1.14h-1.14zM685.66,45.96h1.14v1.14h-1.14zM690.21,45.96h1.14v1.14h-1.14zM691.34,45.96h1.14v1.14h-1.14zM693.62,45.96h1.14v1.14h-1.14zM695.90,45.96h1.14v1.14h-1.14zM697.03,45.96h1.14v1.14h-1.14zM699.31,45.96h1.14v1.14h-1.14zM701.59,45.96h1.14v1.14h-1.14zM672.00,47.10h1.14v1.14h-1.14zM673.14,47.10h1.14v1.14h-1.14zM675.41,47.10h1.14v1.14h-1.14zM676.55,47.10h1.14v1.14h-1.14zM677.69,47.10h1.14v1.14h-1.14zM679.97,47.10h1.14v1.14h-1.14zM686.79,47.10h1.14v1.14h-1.14zM692.48,47.10h1.14v1.14h-1.14zM698.17,47.10h1.14v1.14h-1.14zM679.97,48.23h1.14v1.14h-1.14zM682.24,48.23h1.14v1.14h-1.14zM683.38,48.23h1.14v1.14h-1.14zM684.52,48.23h1.14v1.14h-1.14zM685.66,48.23h1.14v1.14h-1.14zM686.79,48.23h1.14v1.14h-1.14zM690.21,48.23h1.14v1.14h-1.14zM693.62,48.23h1.14v1.14h-1.14zM698.17,48.23h1.14v1.14h-1.14zM679.97,49.37h1.14v1.14h-1.14zM683.38,49.37h1.14v1.14h-1.14zM684.52,49.37h1.14v1.14h-1.14zM685.66,49.37h1.14v1.14h-1.14zM686.79,49.37h1.14v1.14h-1.14zM687.93,49.37h1.14v1.14h-1.14zM689.07,49.37h1.14v1.14h-1.14zM690.21,49.37h1.14v1.14h-1.14zM700.45,49.37h1.14v1.14h-1.14zM703.86,49.37h1.14v1.14h-1.14zM681.10,50.51h1.14v1.14h-1.14zM682.24,50.51h1.14v1.14h-1.14zM683.38,50.51h1.14v1.14h-1.14zM684.52,50.51h1.14v1.14h-1.14zM686.79,50.51h1.14v1.14h-1.14zM689.07,50.51h1.14v1.14h-1.14zM692.48,50.51h1.14v1.14h-1.14zM693.62,50.51h1.14v1.14h-1.14zM697.03,50.51h1.14v1.14h-1.14zM699.31,50.51h1.14v1.14h-1.14zM700.45,50.51h1.14v1.14h-1.14zM701.59,50.51h1.14v1.14h-1.14zM702.72,50.51h1.14v1.14h-1.14zM703.86,50.51h1.14v1.14h-1.14zM681.10,51.65h1.14v1.14h-1.14zM684.52,51.65h1.14v1.14h-1.14zM687.93,51.65h1.14v1.14h-1.14zM690.21,51.65h1.14v1.14h-1.14zM691.34,51.65h1.14v1.14h-1.14zM693.62,51.65h1.14v1.14h-1.14zM698.17,51.65h1.14v1.14h-1.14zM702.72,51.65h1.14v1.14h-1.14zM679.97,52.79h1.14v1.14h-1.14zM681.10,52.79h1.14v1.14h-1.14zM682.24,52.79h1.14v1.14h-1.14zM684.52,52.79h1.14v1.14h-1.14zM685.66,52.79h1.14v1.14h-1.14zM687.93,52.79h1.14v1.14h-1.14zM689.07,52.79h1.14v1.14h-1.14zM691.34,52.79h1.14v1.14h-1.14zM698.17,52.79h1.14v1.14h-1.14zM699.31,52.79h1.14v1.14h-1.14zM703.86,52.79h1.14v1.14h-1.14zM679.97,53.92h1.14v1.14h-1.14zM686.79,53.92h1.14v1.14h-1.14zM687.93,53.92h1.14v1.14h-1.14zM692.48,53.92h1.14v1.14h-1.14zM693.62,53.92h1.14v1.14h-1.14zM694.76,53.92h1.14v1.14h-1.14zM695.90,53.92h1.14v1.14h-1.14zM698.17,53.92h1.14v1.14h-1.14zM700.45,53.92h1.14v1.14h-1.14zM701.59,53.92h1.14v1.14h-1.14zM681.10,55.06h1.14v1.14h-1.14zM682.24,55.06h1.14v1.14h-1.14zM683.38,55.06h1.14v1.14h-1.14zM684.52,55.06h1.14v1.14h-1.14zM687.93,55.06h1.14v1.14h-1.14zM689.07,55.06h1.14v1.14h-1.14zM693.62,55.06h1.14v1.14h-1.14zM694.76,55.06h1.14v1.14h-1.14zM695.90,55.06h1.14v1.14h-1.14zM698.17,55.06h1.14v1.14h-1.14zM701.59,55.06h1.14v1.14h-1.14z" fill="#333"/><rect x="672.57" y="23.77" width="6.83" height="6.83" fill="none" stroke="#333" stroke-width="1.14"/><rect x="674.28" y="25.48" width="3.41" height="3.41" fill="#333"/><rect x="697.60" y="23.77" width="6.83" height="6.83" fill="none" stroke="#333" stroke-width="1.14"/><rect x="699.31" y="25.48" width="3.41" height="3.41" fill="#333"/><rect x="672.57" y="48.80" width="6.83" height="6.83" fill="none" stroke="#333" stroke-width="1.14"/><rect x="674.28" y="50.51" width="3.41" height="3.41" fill="#333"/><rect x="684.6" y="35.6" width="7.8" height="7.8" fill="#3b5998"/><text class="ss" x="687" y="42.6" font-size="7.4" fill="#fff">f</text><text class="ss" x="714" y="29.8" font-size="8.6" fill="#3e95aa" textLength="58.3" lengthAdjust="spacingAndGlyphs">Stats<tspan class="rg">Malaysia</tspan></text><rect x="714.0" y="33.7" width="13" height="12.4" fill="#2089a2"/><rect x="729.1" y="33.7" width="13" height="12.4" fill="#2089a2"/><rect x="744.2" y="33.7" width="13" height="12.4" fill="#2089a2"/><rect x="759.3" y="33.7" width="13" height="12.4" fill="#2089a2"/><text class="ss" x="718.2" y="45" font-size="11" fill="#fff">f</text><rect x="731.9" y="36.3" width="7.6" height="7.6" rx="2" fill="none" stroke="#fff" stroke-width="1.1"/><circle cx="735.7" cy="40.1" r="1.9" fill="none" stroke="#fff" stroke-width="1"/><circle cx="738" cy="37.8" r="0.55" fill="#fff"/><path d="M746.2,43.2 c4.6,1.2 8.2,-1.6 8.2,-5.6 l1,-1.1 l-1.2,0.2 l0.8,-1.2 l-1.3,0.5 c-1.6,-1.5 -3.9,-0.2 -3.5,1.7 c-1.9,0 -3.3,-0.9 -4.3,-2.1 c-0.7,1.3 -0.2,2.5 0.7,3.2 l-1,-0.3 c0,1.2 0.8,2.1 1.9,2.4 l-1,0.1 c0.3,0.9 1.1,1.5 2.1,1.5 c-0.9,0.7 -2,0.9 -3.2,0.7 Z" fill="#fff"/><rect x="761.6" y="36.7" width="8.4" height="6.4" rx="1.8" fill="#fff"/><path d="M764.7,38.2 l3,1.7 l-3,1.7 Z" fill="#2089a2"/><rect x="714" y="47.5" width="58.3" height="0.7" fill="#3e95aa"/><text class="ss rg" x="717.6" y="53" font-size="5.2" fill="#3e95aa" textLength="51" lengthAdjust="spacingAndGlyphs">www.dosm.gov.my</text><rect x="618" y="75" width="147" height="105" rx="14" fill="url(#gDecP)"/>
<g transform="matrix(0.977 0.2216 -0.435 0.906 612.7 66.7)"><rect x="3" y="6" width="187" height="93" rx="15" fill="#3c3646" opacity="0.45" filter="url(#blur2)"/><mask id="mRim" maskUnits="userSpaceOnUse" x="-10" y="-10" width="207" height="113"><rect x="-10" y="-10" width="207" height="113" fill="#fff"/><rect x="0" y="0" width="187" height="93" rx="15" fill="#000"/></mask><rect x="3" y="4" width="187" height="93" rx="15" fill="#b9b6c0" fill-opacity="0.92" mask="url(#mRim)"/><rect x="0" y="0" width="187" height="93" rx="15" fill="url(#gGlass)" stroke="#ffffff" stroke-opacity="0.3" stroke-width="2"/></g>
<text class="sf" x="608" y="123" font-size="27" fill="#fff8e6" text-anchor="start" textLength="146" lengthAdjust="spacingAndGlyphs" filter="url(#tsh)">DECEMBER</text>
<text class="sf" x="644" y="154" font-size="26.5" fill="#fff8e6" text-anchor="start" textLength="73" lengthAdjust="spacingAndGlyphs" filter="url(#tsh)">2019</text>
<text class="sf" x="62" y="223" font-size="18.6" fill="#52438a" text-anchor="start" textLength="25.7" lengthAdjust="spacingAndGlyphs">PPI</text>
<text class="sf" x="99.8" y="223" font-size="18.6" fill="#52438a" text-anchor="start" textLength="43.9" lengthAdjust="spacingAndGlyphs">Local</text>
<text class="sf" x="150.2" y="223" font-size="18.6" fill="#52438a" text-anchor="start" textLength="97.5" lengthAdjust="spacingAndGlyphs">Production</text>
<text class="sf" x="250.4" y="223" font-size="18.6" fill="#e36c09" text-anchor="start" textLength="77.1" lengthAdjust="spacingAndGlyphs">increased</text>
<text class="sf" x="336.5" y="223" font-size="18.6" fill="#e36c09" text-anchor="start" textLength="45.4" lengthAdjust="spacingAndGlyphs">3.5%</text>
<text class="sf" x="72" y="246.5" font-size="18.6" fill="#52438a" text-anchor="start" textLength="14.6" lengthAdjust="spacingAndGlyphs">in</text>
<text class="sf" x="93.2" y="246.5" font-size="18.6" fill="#e36c09" text-anchor="start" textLength="84.1" lengthAdjust="spacingAndGlyphs">December</text>
<text class="sf" x="183.9" y="246.5" font-size="18.6" fill="#e36c09" text-anchor="start" textLength="42.8" lengthAdjust="spacingAndGlyphs">2019</text>
<text class="sf" x="237.8" y="246.5" font-size="18.6" fill="#52438a" text-anchor="start" textLength="16.6" lengthAdjust="spacingAndGlyphs">as</text>
<text class="sf" x="259.4" y="246.5" font-size="18.6" fill="#52438a" text-anchor="start" textLength="81.6" lengthAdjust="spacingAndGlyphs">compared</text>
<text class="sf" x="354" y="246.5" font-size="18.6" fill="#52438a" text-anchor="start" textLength="17.8" lengthAdjust="spacingAndGlyphs">to</text>
<text class="sf" x="154.7" y="268.5" font-size="18.6" fill="#52438a" text-anchor="start" textLength="86.1" lengthAdjust="spacingAndGlyphs">December</text>
<text class="sf" x="246.9" y="268.5" font-size="18.6" fill="#52438a" text-anchor="start" textLength="42.8" lengthAdjust="spacingAndGlyphs">2018</text>
<line x1="7" y1="298" x2="257" y2="298" stroke="#7d4bb3" stroke-width="1.3" stroke-dasharray="4 2.6"/>
<line x1="494" y1="302.3" x2="794" y2="303.6" stroke="#7d4bb3" stroke-width="1.3" stroke-dasharray="4 2.6"/>
<text class="ss" x="312" y="306" font-size="19" fill="#6430a0" text-anchor="start" textLength="144" lengthAdjust="spacingAndGlyphs" stroke="#6430a0" stroke-width="0.4">PPI BY SECTOR</text>
<rect x="489" y="192" width="142" height="71" fill="#e36c09"/><rect x="492" y="195" width="136" height="65" fill="url(#gOrFr)"/><rect x="495.5" y="198" width="129" height="58.5" fill="#ffffff"/><rect x="501.5" y="202.7" width="116.5" height="48.3" fill="#e36c09"/>
<rect x="638" y="207.3" width="132" height="73" fill="#0a70c4"/><rect x="641" y="210.3" width="126" height="67" fill="url(#gBlFr)"/><rect x="644.5" y="213.5" width="119" height="60" fill="#ffffff"/><rect x="650" y="219" width="107" height="48" fill="#0a70c4"/>
<text class="ss" x="544.5" y="230.5" fill="#fff" font-size="32" textLength="48.5" lengthAdjust="spacingAndGlyphs">3.5<tspan font-size="20">%</tspan></text>
<text class="ss" x="514" y="243.5" font-size="12.2" fill="#fff" text-anchor="start" textLength="96" lengthAdjust="spacingAndGlyphs">(Nov 2019 : 1.2%)</text>
<text class="ss" x="693.5" y="245" fill="#fff" font-size="25" textLength="34" lengthAdjust="spacingAndGlyphs">0.8<tspan font-size="15">%</tspan></text>
<text class="ss" x="656.5" y="259.5" font-size="12.2" fill="#fff" text-anchor="start" textLength="95.5" lengthAdjust="spacingAndGlyphs">(Nov 2019 : 1.3%)</text>
<text class="ss" x="554" y="278" font-size="10.8" fill="#e36c09" text-anchor="start" textLength="64" lengthAdjust="spacingAndGlyphs">Year-on-Year</text>
<text class="ss" x="679.5" y="292" font-size="10.8" fill="#0a70c4" text-anchor="start" textLength="83.5" lengthAdjust="spacingAndGlyphs">Month-on-Month</text>
<g filter="url(#fsh)"><rect x="426" y="182.2" width="73" height="46" fill="#fff"/></g><g transform="translate(427,183.2)"><rect width="71" height="44" fill="#fff"/><rect y="0.00" width="71" height="3.14" fill="#cc0001"/><rect y="6.29" width="71" height="3.14" fill="#cc0001"/><rect y="12.57" width="71" height="3.14" fill="#cc0001"/><rect y="18.86" width="71" height="3.14" fill="#cc0001"/><rect y="25.14" width="71" height="3.14" fill="#cc0001"/><rect y="31.43" width="71" height="3.14" fill="#cc0001"/><rect y="37.71" width="71" height="3.14" fill="#cc0001"/><rect width="35.5" height="25.14" fill="#010066"/><circle cx="15" cy="12.5" r="9" fill="#ffcc00"/><circle cx="17.6" cy="12.5" r="8" fill="#010066"/><polygon points="21.50,6.30 22.17,9.58 24.19,6.91 23.37,10.15 26.35,8.63 24.20,11.20 27.54,11.12 24.50,12.50 27.54,13.88 24.20,13.80 26.35,16.37 23.37,14.85 24.19,18.09 22.17,15.42 21.50,18.70 20.83,15.42 18.81,18.09 19.63,14.85 16.65,16.37 18.80,13.80 15.46,13.88 18.50,12.50 15.46,11.12 18.80,11.20 16.65,8.63 19.63,10.15 18.81,6.91 20.83,9.58" fill="#ffcc00"/></g>
<rect x="0" y="314" width="794" height="267.5" fill="#f0edf5"/>
<text class="ss" x="96" y="346.4" font-size="12.6" fill="#564887" text-anchor="start" textLength="68.8" lengthAdjust="spacingAndGlyphs">Agriculture,</text>
<text class="ss" x="80" y="363.3" font-size="12.6" fill="#564887" text-anchor="start" textLength="100.6" lengthAdjust="spacingAndGlyphs">forestry &amp; fishing</text>
<text class="ss" x="239.3" y="352.8" font-size="12.6" fill="#564887" text-anchor="start" textLength="40.3" lengthAdjust="spacingAndGlyphs">Mining</text>
<text class="ss" x="346.6" y="353" font-size="12.6" fill="#564887" text-anchor="start" textLength="90.2" lengthAdjust="spacingAndGlyphs">Manufacturing</text>
<text class="ss" x="501.3" y="347.8" font-size="12.6" fill="#564887" text-anchor="start" textLength="70" lengthAdjust="spacingAndGlyphs">Electricity &amp;</text>
<text class="ss" x="505.8" y="364.4" font-size="12.6" fill="#564887" text-anchor="start" textLength="62" lengthAdjust="spacingAndGlyphs">gas supply</text>
<text class="ss" x="633.3" y="352.8" font-size="12.6" fill="#564887" text-anchor="start" textLength="78" lengthAdjust="spacingAndGlyphs">Water supply</text>
<g filter="url(#ringsh)"><path d="M41.3,443.3 A81.2,65.2 0 0 0 203.7,443.3 Z" fill="#ffffff" stroke="#4a2f78" stroke-width="2.4" stroke-dasharray="2.3 2.3"/>
<path d="M179.1,443.3 A81.2,65.2 0 0 1 341.5,443.3 Z" fill="#ffffff" stroke="#4a2f78" stroke-width="2.4" stroke-dasharray="2.3 2.3"/>
<path d="M316.2,443.3 A81.2,65.2 0 0 0 478.6,443.3 Z" fill="#ffffff" stroke="#111" stroke-width="2.4" stroke-dasharray="2.3 2.3"/>
<path d="M452.2,443.3 A81.2,65.2 0 0 1 614.6,443.3 Z" fill="#ffffff" stroke="#4a2f78" stroke-width="2.4" stroke-dasharray="2.3 2.3"/>
<path d="M589.6,443.3 A81.2,65.2 0 0 0 752.0,443.3 Z" fill="#ffffff" stroke="#4a2f78" stroke-width="2.4" stroke-dasharray="2.3 2.3"/>
</g><g filter="url(#ringsh)"><path d="M41.3,443.3 A81.2,65.2 0 0 1 203.7,443.3 Z" fill="#5f497a" stroke="#4a2f78" stroke-width="2.4" stroke-dasharray="2.3 2.3"/>
<path d="M179.1,443.3 A81.2,65.2 0 0 0 341.5,443.3 Z" fill="#5f497a" stroke="#4a2f78" stroke-width="2.4" stroke-dasharray="2.3 2.3"/>
<path d="M316.2,443.3 A81.2,65.2 0 0 1 478.6,443.3 Z" fill="#5f497a" stroke="#111" stroke-width="2.4" stroke-dasharray="2.3 2.3"/>
<path d="M452.2,443.3 A81.2,65.2 0 0 0 614.6,443.3 Z" fill="#5f497a" stroke="#4a2f78" stroke-width="2.4" stroke-dasharray="2.3 2.3"/>
<path d="M589.6,443.3 A81.2,65.2 0 0 1 752.0,443.3 Z" fill="#5f497a" stroke="#4a2f78" stroke-width="2.4" stroke-dasharray="2.3 2.3"/>
</g>
<path d="M735,557 L781,564 L776,578 L735,579 Z" fill="#5c5664" opacity="0.34" filter="url(#blur3)"/><g filter="url(#boxsh)"><rect x="58.4" y="472" width="130.8" height="103.4" rx="20" fill="#fff" stroke="#b2a1c7" stroke-width="2.5"/><rect x="197.0" y="472" width="130.8" height="103.4" rx="20" fill="#fff" stroke="#b2a1c7" stroke-width="2.5"/><rect x="335.6" y="472" width="130.8" height="103.4" rx="20" fill="#fff" stroke="#b2a1c7" stroke-width="2.5"/><rect x="474.2" y="472" width="130.8" height="103.4" rx="20" fill="#fff" stroke="#b2a1c7" stroke-width="2.5"/><rect x="612.8" y="472" width="130.8" height="103.4" rx="20" fill="#fff" stroke="#b2a1c7" stroke-width="2.5"/></g>
<line x1="61.1" y1="540.2" x2="183.6" y2="540.2" stroke="#858510" stroke-width="1.2" stroke-dasharray="4 2.2"/><line x1="199.7" y1="540.2" x2="322.2" y2="540.2" stroke="#858510" stroke-width="1.2" stroke-dasharray="4 2.2"/><line x1="338.3" y1="540.2" x2="460.8" y2="540.2" stroke="#858510" stroke-width="1.2" stroke-dasharray="4 2.2"/><line x1="476.9" y1="540.2" x2="599.4" y2="540.2" stroke="#858510" stroke-width="1.2" stroke-dasharray="4 2.2"/><line x1="615.5" y1="540.2" x2="738.0" y2="540.2" stroke="#858510" stroke-width="1.2" stroke-dasharray="4 2.2"/><ellipse cx="123.7" cy="447.59999999999997" rx="59" ry="48" fill="#000" opacity="0.38" filter="url(#blur2)"/><ellipse cx="122.5" cy="445.4" rx="58.7" ry="47.8" fill="url(#gMedO)"/><ellipse cx="122.5" cy="445.4" rx="54.4" ry="43.4" fill="url(#gMedR)"/><ellipse cx="122.5" cy="445.4" rx="50.6" ry="39.4" fill="url(#gMedI)"/><ellipse cx="122.5" cy="445.4" rx="48" ry="36.8" fill="#e6e6e6" stroke="url(#gMedE)" stroke-width="2"/>
<ellipse cx="261.5" cy="444.8" rx="59" ry="48" fill="#000" opacity="0.38" filter="url(#blur2)"/><ellipse cx="260.3" cy="442.6" rx="58.7" ry="47.8" fill="url(#gMedO)"/><ellipse cx="260.3" cy="442.6" rx="54.4" ry="43.4" fill="url(#gMedR)"/><ellipse cx="260.3" cy="442.6" rx="50.6" ry="39.4" fill="url(#gMedI)"/><ellipse cx="260.3" cy="442.6" rx="48" ry="36.8" fill="#e6e6e6" stroke="url(#gMedE)" stroke-width="2"/>
<ellipse cx="398.59999999999997" cy="445.2" rx="59" ry="48" fill="#000" opacity="0.38" filter="url(#blur2)"/><ellipse cx="397.4" cy="443" rx="58.7" ry="47.8" fill="url(#gMedO)"/><ellipse cx="397.4" cy="443" rx="54.4" ry="43.4" fill="url(#gMedR)"/><ellipse cx="397.4" cy="443" rx="50.6" ry="39.4" fill="url(#gMedI)"/><ellipse cx="397.4" cy="443" rx="48" ry="36.8" fill="#e6e6e6" stroke="url(#gMedE)" stroke-width="2"/>
<ellipse cx="534.6" cy="444.8" rx="59" ry="48" fill="#000" opacity="0.38" filter="url(#blur2)"/><ellipse cx="533.4" cy="442.6" rx="58.7" ry="47.8" fill="url(#gMedO)"/><ellipse cx="533.4" cy="442.6" rx="54.4" ry="43.4" fill="url(#gMedR)"/><ellipse cx="533.4" cy="442.6" rx="50.6" ry="39.4" fill="url(#gMedI)"/><ellipse cx="533.4" cy="442.6" rx="48" ry="36.8" fill="#e6e6e6" stroke="url(#gMedE)" stroke-width="2"/>
<ellipse cx="672.0" cy="445.9" rx="59" ry="48" fill="#000" opacity="0.38" filter="url(#blur2)"/><ellipse cx="670.8" cy="443.7" rx="58.7" ry="47.8" fill="url(#gMedO)"/><ellipse cx="670.8" cy="443.7" rx="54.4" ry="43.4" fill="url(#gMedR)"/><ellipse cx="670.8" cy="443.7" rx="50.6" ry="39.4" fill="url(#gMedI)"/><ellipse cx="670.8" cy="443.7" rx="48" ry="36.8" fill="#e6e6e6" stroke="url(#gMedE)" stroke-width="2"/>
<g transform="translate(102.40,427.40) scale(0.07566,0.07561) translate(-98,-98)" filter="url(#icsh)"><g fill="#000"><path d="M402,175 C335,85 205,80 140,158 C215,118 320,128 392,205 Z"/><path d="M394,200 C300,135 150,145 98,255 C165,190 285,180 375,232 Z"/><path d="M378,215 C270,185 135,230 148,335 L182,372 C168,292 250,245 355,268 Z"/><g transform="translate(800,0) scale(-1,1)"><path d="M402,175 C335,85 205,80 140,158 C215,118 320,128 392,205 Z"/><path d="M394,200 C300,135 150,145 98,255 C165,190 285,180 375,232 Z"/><path d="M378,215 C270,185 135,230 148,335 L182,372 C168,292 250,245 355,268 Z"/></g><path d="M383,250 L427,250 L441,635 L364,635 Z"/><ellipse cx="402" cy="238" rx="52" ry="42"/><circle cx="352" cy="262" r="20"/><circle cx="452" cy="256" r="18"/></g></g>
<g transform="translate(230.00,423.00) scale(0.09075,0.09065) translate(-55,-88)" filter="url(#icsh)"><g fill="#000"><path d="M165,488 q35,-26 70,0 q35,-26 70,0 q35,-26 70,0 q35,-26 70,0 q35,-26 70,0 q35,-26 70,0 q35,-26 70,0 q35,-26 70,0" fill="none" stroke="#000" stroke-width="19"/><path d="M165,536 q35,-26 70,0 q35,-26 70,0 q35,-26 70,0 q35,-26 70,0 q35,-26 70,0 q35,-26 70,0 q35,-26 70,0 q35,-26 70,0" fill="none" stroke="#000" stroke-width="19"/><rect x="262" y="385" width="83" height="62"/><rect x="405" y="385" width="80" height="62"/><rect x="550" y="385" width="80" height="62"/><rect x="262" y="327" width="368" height="46"/><rect x="240" y="289" width="415" height="27"/><rect x="240" y="195" width="215" height="78"/><rect x="248" y="138" width="195" height="60"/><rect x="280" y="152" width="26" height="24" fill="#e5e5e5"/><rect x="338" y="152" width="62" height="24" fill="#9a9a9a"/><rect x="340" y="220" width="22" height="20" fill="#d8d8d8"/><rect x="380" y="220" width="22" height="20" fill="#d8d8d8"/><rect x="420" y="220" width="22" height="20" fill="#d8d8d8"/><path d="M65,90 H268 L442,150 V168 L262,108 H65 Z"/><rect x="110" y="95" width="14" height="8" fill="#d0d0d0"/><rect x="150" y="95" width="14" height="8" fill="#d0d0d0"/><rect x="190" y="95" width="14" height="8" fill="#d0d0d0"/><rect x="228" y="95" width="14" height="8" fill="#d0d0d0"/><rect x="70" y="100" width="7" height="135"/><circle cx="76" cy="270" r="15" fill="none" stroke="#000" stroke-width="8"/><rect x="68" y="232" width="16" height="25"/><path d="M538,160 H582 L618,289 H498 Z"/><path d="M548,205 H572 L560,180 Z M540,250 H580 L560,222 Z" fill="#e5e5e5"/><path d="M558,98 L570,125 L566,158 H552 L546,125 Z"/></g></g>
<g transform="translate(373.10,422.10) scale(0.08300,0.08300) translate(-97,-85)" filter="url(#icsh)"><g fill="#000"><rect x="135" y="85" width="46" height="320"/><path d="M97,398 H325 V250 L505,396 V250 L697,398 V585 H97 Z"/><rect x="170" y="440" width="40" height="38" fill="#9c9c9c"/><rect x="170" y="515" width="40" height="38" fill="#9c9c9c"/><rect x="252" y="440" width="40" height="38" fill="#9c9c9c"/><rect x="252" y="515" width="40" height="38" fill="#9c9c9c"/><rect x="335" y="440" width="40" height="38" fill="#9c9c9c"/><rect x="335" y="515" width="40" height="38" fill="#9c9c9c"/><rect x="418" y="440" width="40" height="38" fill="#9c9c9c"/><rect x="418" y="515" width="40" height="38" fill="#9c9c9c"/><rect x="501" y="440" width="40" height="38" fill="#9c9c9c"/><rect x="501" y="515" width="40" height="38" fill="#9c9c9c"/><rect x="584" y="440" width="40" height="38" fill="#9c9c9c"/><rect x="584" y="515" width="40" height="38" fill="#9c9c9c"/></g></g>
<g transform="translate(517.50,418.00) scale(0.07826,0.07787) translate(-160,-100)" filter="url(#icsh)"><g fill="none" stroke="#000" stroke-linejoin="round"><rect x="180" y="655" width="420" height="46" fill="#000" stroke="none"/><path d="M284,660 L378,112 M496,660 L402,112" stroke-width="24"/><path d="M378,100 H402 V140 H378 Z" fill="#000" stroke="none"/><path d="M300,640 L465,540 L330,465 L440,395 L350,330 L420,265 L365,205" stroke-width="10"/><path d="M230,245 L290,195 H490 L550,245 Z M160,385 L250,325 H530 L620,385 Z" stroke-width="11"/><path d="M262,245 L290,195 L318,245 L345,195 M435,195 L462,245 L490,195 L518,245 M205,385 L250,325 L290,385 L330,325 M450,325 L490,385 L530,325 L575,385" stroke-width="7"/><path d="M245,247 v18 M535,247 v18 M195,387 v20 M585,387 v20" stroke-width="12"/></g></g>
<g transform="translate(648.90,427.00) scale(0.08060,0.08070) translate(-110,-112)" filter="url(#icsh)"><g fill="none" stroke="#000" stroke-width="22" stroke-linejoin="round"><path d="M270,255 H122 V350 H270"/><rect x="270" y="215" width="185" height="180" rx="48"/><path d="M455,255 H520 C610,255 660,320 660,430 H535 C535,370 515,342 455,342"/><path d="M365,215 V172" stroke-width="24"/><path d="M265,122 C320,135 410,135 465,122 C495,122 495,168 465,168 C410,155 320,155 265,168 C235,168 235,122 265,122 Z" stroke-width="18"/><path d="M595,508 C640,560 652,580 652,598 A57,52 0 0 1 538,598 C538,580 550,560 595,508 Z"/></g></g>
<text class="ss" x="106" y="519.2" font-size="23" fill="#e36c09" text-anchor="start" textLength="44.8" lengthAdjust="spacingAndGlyphs" stroke="#e36c09" stroke-width="0.45">21.9%</text>
<text class="ss" x="243.8" y="516" font-size="23" fill="#e36c09" text-anchor="start" textLength="47.2" lengthAdjust="spacingAndGlyphs" stroke="#e36c09" stroke-width="0.45">19.3%</text>
<text class="ss" x="382.9" y="516" font-size="23" fill="#e36c09" text-anchor="start" textLength="40.8" lengthAdjust="spacingAndGlyphs" stroke="#e36c09" stroke-width="0.45">0.5%</text>
<text class="ss" x="524" y="516.8" font-size="23" fill="#e36c09" text-anchor="start" textLength="37.8" lengthAdjust="spacingAndGlyphs" stroke="#e36c09" stroke-width="0.45">1.2%</text>
<text class="ss" x="657.7" y="518" font-size="23" fill="#e36c09" text-anchor="start" textLength="49.7" lengthAdjust="spacingAndGlyphs" stroke="#e36c09" stroke-width="0.45">-2.9%</text>
<text class="ss" x="67.2" y="532.8" font-size="12.6" fill="#e36c09" text-anchor="start" textLength="110.1" lengthAdjust="spacingAndGlyphs">(Nov 2019 : 19.9%)</text>
<text class="ss" x="209.5" y="531.4" font-size="12.6" fill="#e36c09" text-anchor="start" textLength="101.5" lengthAdjust="spacingAndGlyphs">(Nov 2019 : 6.4%)</text>
<text class="ss" x="347.2" y="531.7" font-size="12.6" fill="#e36c09" text-anchor="start" textLength="102.8" lengthAdjust="spacingAndGlyphs">(Nov 2019 :-0.7%)</text>
<text class="ss" x="485.2" y="532.2" font-size="12.6" fill="#e36c09" text-anchor="start" textLength="101.8" lengthAdjust="spacingAndGlyphs">(Nov 2019 : 0.6%)</text>
<text class="ss" x="624" y="531" font-size="12.6" fill="#e36c09" text-anchor="start" textLength="103" lengthAdjust="spacingAndGlyphs">(Nov 2019 :-2.3%)</text>
<text class="ss rg" x="109.3" y="564.5" font-size="20.3" fill="#0a70c4" text-anchor="start" textLength="32.7" lengthAdjust="spacingAndGlyphs" stroke="#0a70c4" stroke-width="0.8">2.6%</text>
<text class="ss rg" x="251.9" y="563.6" font-size="20.3" fill="#0a70c4" text-anchor="start" textLength="29.4" lengthAdjust="spacingAndGlyphs" stroke="#0a70c4" stroke-width="0.8">2.1%</text>
<text class="ss rg" x="388" y="563.6" font-size="20.3" fill="#0a70c4" text-anchor="start" textLength="31.8" lengthAdjust="spacingAndGlyphs" stroke="#0a70c4" stroke-width="0.8">0.6%</text>
<text class="ss rg" x="524" y="564.3" font-size="20.3" fill="#0a70c4" text-anchor="start" textLength="33.6" lengthAdjust="spacingAndGlyphs" stroke="#0a70c4" stroke-width="0.8">0.7%</text>
<text class="ss rg" x="665.3" y="564.3" font-size="20.3" fill="#0a70c4" text-anchor="start" textLength="31.1" lengthAdjust="spacingAndGlyphs" stroke="#0a70c4" stroke-width="0.8">0.0%</text>
<text class="ss" x="89.2" y="610.3" font-size="18" fill="#6430a0" text-anchor="start" textLength="269.3" lengthAdjust="spacingAndGlyphs" stroke="#6430a0" stroke-width="0.4">PPI BY STAGE OF PROCESSING</text>
<path d="M318,631 H74.7 A53.9,45.7 0 0 0 74.7,722.4 H318 Z" fill="#7030a0" filter="url(#pillsh)"/><path d="M312,637.5 H78.9 A46.5,39.4 0 0 0 78.9,716.3 H312 Z" fill="#ffffff"/><path d="M308.7,641 H78.8 A43.0,36.4 0 0 0 78.8,713.8 H308.7 Z" fill="#ffffff" stroke="#8a8a8a" stroke-opacity="0.55" stroke-width="3.6" filter="url(#blur1)"/><path d="M308.7,641 H78.8 A43.0,36.4 0 0 0 78.8,713.8 H308.7 Z" fill="#ffffff" stroke="url(#gSilver)" stroke-width="1.7"/><path d="M322.5,626 L308.5,641 V712.5 L322.5,725 Z" fill="url(#gTrap)" stroke="#c4c4c4" stroke-width="0.6"/><path d="M322.5,626 H403.5 A21,35 0 0 1 424.5,661 V690 A21,35 0 0 1 403.5,725 H322.5 Z" fill="#ebe6f3" stroke="#8f8f8f" stroke-width="1.2" filter="url(#ibsh)"/><path d="M322.5,626 L328.5,632 V719 L322.5,725 Z" fill="#ffffff" fill-opacity="0.55"/><path d="M322.5,626 L328.5,632 H400.5 L402.5,626 Z" fill="#ffffff" fill-opacity="0.45"/><path d="M322.5,725 L328.5,719 H400.5 L402.5,725 Z" fill="#ffffff" fill-opacity="0.8"/><path d="M322.5,626 H403.5 A21,35 0 0 1 424.5,661 V690 A21,35 0 0 1 403.5,725 H322.5 Z" fill="none" stroke="#ffffff" stroke-width="1.6" transform="translate(373.5,675.5) scale(0.972,0.972) translate(-373.5,-675.5)"/><ellipse cx="377.5" cy="675.5" rx="34" ry="36" fill="#f3f0f9" opacity="0.7" filter="url(#blur2)"/><rect x="110.3" y="680.9" width="71.2" height="26.9" fill="#e36c09" filter="url(#vsh)"/><rect x="187" y="680.9" width="69.9" height="26.9" fill="#0a70c4" filter="url(#vsh)"/><path d="M126,732.4 H379.5 A53.1,45.0 0 0 1 379.5,822.4 H126 Z" fill="#7030a0" filter="url(#pillsh)"/><path d="M130,738.2 H380.4 A48.8,41.3 0 0 1 380.4,820.9 H130 Z" fill="#ffffff"/><path d="M137,743 H385.4 A42.0,35.6 0 0 1 385.4,814.2 H137 Z" fill="#ffffff" stroke="#8a8a8a" stroke-opacity="0.55" stroke-width="3.6" filter="url(#blur1)"/><path d="M137,743 H385.4 A42.0,35.6 0 0 1 385.4,814.2 H137 Z" fill="#ffffff" stroke="url(#gSilver)" stroke-width="1.7"/><path d="M122,726.6 L136,741.6 V812.8 L122,825.3 Z" fill="url(#gTrap)" stroke="#c4c4c4" stroke-width="0.6"/><path d="M122,726.6 H41 A21,35 0 0 0 20,761.6 V790.3 A21,35 0 0 0 41,825.3 H122 Z" fill="#ebe6f3" stroke="#8f8f8f" stroke-width="1.2" filter="url(#ibsh)"/><path d="M122,726.6 L116,732.6 V819.3 L122,825.3 Z" fill="#ffffff" fill-opacity="0.55"/><path d="M122,726.6 L116,732.6 H44 L42,726.6 Z" fill="#ffffff" fill-opacity="0.45"/><path d="M122,825.3 L116,819.3 H44 L42,825.3 Z" fill="#ffffff" fill-opacity="0.8"/><path d="M122,726.6 H41 A21,35 0 0 0 20,761.6 V790.3 A21,35 0 0 0 41,825.3 H122 Z" fill="none" stroke="#ffffff" stroke-width="1.6" transform="translate(71.0,776.0) scale(0.972,0.972) translate(-71.0,-776.0)"/><ellipse cx="67.0" cy="776.0" rx="34" ry="36" fill="#f3f0f9" opacity="0.7" filter="url(#blur2)"/><rect x="186" y="782" width="70.0" height="25.8" fill="#e36c09" filter="url(#vsh)"/><rect x="263" y="782" width="70.0" height="25.8" fill="#0a70c4" filter="url(#vsh)"/><path d="M318,832.2 H75.5 A53.9,45.7 0 0 0 75.5,923.6 H318 Z" fill="#7030a0" filter="url(#pillsh)"/><path d="M312,838.7 H79.7 A46.5,39.4 0 0 0 79.7,917.5 H312 Z" fill="#ffffff"/><path d="M307.5,842 H79.4 A43.0,36.4 0 0 0 79.4,914.8 H307.5 Z" fill="#ffffff" stroke="#8a8a8a" stroke-opacity="0.55" stroke-width="3.6" filter="url(#blur1)"/><path d="M307.5,842 H79.4 A43.0,36.4 0 0 0 79.4,914.8 H307.5 Z" fill="#ffffff" stroke="url(#gSilver)" stroke-width="1.7"/><path d="M322.5,827.5 L308.5,842.5 V912.0 L322.5,924.5 Z" fill="url(#gTrap)" stroke="#c4c4c4" stroke-width="0.6"/><path d="M322.5,827.5 H403.5 A21,35 0 0 1 424.5,862.5 V889.5 A21,35 0 0 1 403.5,924.5 H322.5 Z" fill="#ebe6f3" stroke="#8f8f8f" stroke-width="1.2" filter="url(#ibsh)"/><path d="M322.5,827.5 L328.5,833.5 V918.5 L322.5,924.5 Z" fill="#ffffff" fill-opacity="0.55"/><path d="M322.5,827.5 L328.5,833.5 H400.5 L402.5,827.5 Z" fill="#ffffff" fill-opacity="0.45"/><path d="M322.5,924.5 L328.5,918.5 H400.5 L402.5,924.5 Z" fill="#ffffff" fill-opacity="0.8"/><path d="M322.5,827.5 H403.5 A21,35 0 0 1 424.5,862.5 V889.5 A21,35 0 0 1 403.5,924.5 H322.5 Z" fill="none" stroke="#ffffff" stroke-width="1.6" transform="translate(373.5,876.0) scale(0.972,0.972) translate(-373.5,-876.0)"/><ellipse cx="377.5" cy="876.0" rx="34" ry="36" fill="#f3f0f9" opacity="0.7" filter="url(#blur2)"/><rect x="107.5" y="882" width="69.8" height="26.7" fill="#e36c09" filter="url(#vsh)"/><rect x="184.3" y="882" width="69.7" height="26.7" fill="#0a70c4" filter="url(#vsh)"/><path d="M126,934.2 H369.4 A53.1,45.0 0 0 1 369.4,1024.2 H126 Z" fill="#7030a0" filter="url(#pillsh)"/><path d="M130,939.8 H364.5 A46.3,39.2 0 0 1 364.5,1018.3 H130 Z" fill="#ffffff"/><path d="M137,944 H366.8 A43.0,36.4 0 0 1 366.8,1016.8 H137 Z" fill="#ffffff" stroke="#8a8a8a" stroke-opacity="0.55" stroke-width="3.6" filter="url(#blur1)"/><path d="M137,944 H366.8 A43.0,36.4 0 0 1 366.8,1016.8 H137 Z" fill="#ffffff" stroke="url(#gSilver)" stroke-width="1.7"/><path d="M122,929.4 L136,944.4 V1013.9000000000001 L122,1026.4 Z" fill="url(#gTrap)" stroke="#c4c4c4" stroke-width="0.6"/><path d="M122,929.4 H41.8 A21,35 0 0 0 20.8,964.4 V991.4000000000001 A21,35 0 0 0 41.8,1026.4 H122 Z" fill="#ebe6f3" stroke="#8f8f8f" stroke-width="1.2" filter="url(#ibsh)"/><path d="M122,929.4 L116,935.4 V1020.4000000000001 L122,1026.4 Z" fill="#ffffff" fill-opacity="0.55"/><path d="M122,929.4 L116,935.4 H44 L42,929.4 Z" fill="#ffffff" fill-opacity="0.45"/><path d="M122,1026.4 L116,1020.4000000000001 H44 L42,1026.4 Z" fill="#ffffff" fill-opacity="0.8"/><path d="M122,929.4 H41.8 A21,35 0 0 0 20.8,964.4 V991.4000000000001 A21,35 0 0 0 41.8,1026.4 H122 Z" fill="none" stroke="#ffffff" stroke-width="1.6" transform="translate(71.4,977.9) scale(0.972,0.972) translate(-71.4,-977.9)"/><ellipse cx="67.4" cy="977.9" rx="34" ry="36" fill="#f3f0f9" opacity="0.7" filter="url(#blur2)"/><rect x="180" y="983" width="70.0" height="26.0" fill="#e36c09" filter="url(#vsh)"/><rect x="256" y="983" width="71.5" height="26.0" fill="#0a70c4" filter="url(#vsh)"/><text class="ss rg" x="73.4" y="666.2" font-size="12.2" fill="#4b3f80" text-anchor="start" textLength="209" lengthAdjust="spacingAndGlyphs" stroke="#4b3f80" stroke-width="0.45">Crude materials for further processing</text>
<text class="ss rg" x="189" y="760.7" font-size="12.2" fill="#4b3f80" text-anchor="start" textLength="178" lengthAdjust="spacingAndGlyphs" stroke="#4b3f80" stroke-width="0.45">Intermediate materials, supplies</text>
<text class="ss rg" x="239.4" y="774.6" font-size="12.2" fill="#4b3f80" text-anchor="start" textLength="79.6" lengthAdjust="spacingAndGlyphs" stroke="#4b3f80" stroke-width="0.45">&amp; components</text>
<text class="ss rg" x="142" y="867" font-size="12.2" fill="#4b3f80" text-anchor="start" textLength="81" lengthAdjust="spacingAndGlyphs" stroke="#4b3f80" stroke-width="0.45">Finished goods</text>
<text class="ss rg" x="241.6" y="967" font-size="12.2" fill="#4b3f80" text-anchor="start" textLength="26.4" lengthAdjust="spacingAndGlyphs" stroke="#4b3f80" stroke-width="0.45">Total</text>
<text class="ss rg" x="129.7" y="702.2" font-size="20.5" fill="#fff" text-anchor="start" textLength="36.0" lengthAdjust="spacingAndGlyphs" stroke="#fff" stroke-width="0.7">16.0%</text>
<text class="ss rg" x="206.2" y="702.2" font-size="20.5" fill="#fff" text-anchor="start" textLength="32.1" lengthAdjust="spacingAndGlyphs" stroke="#fff" stroke-width="0.7">3.5%</text>
<text class="ss rg" x="207.8" y="802.8" font-size="20.5" fill="#fff" text-anchor="start" textLength="33.2" lengthAdjust="spacingAndGlyphs" stroke="#fff" stroke-width="0.7">0.4%</text>
<text class="ss rg" x="282.6" y="802.8" font-size="20.5" fill="#fff" text-anchor="start" textLength="31.6" lengthAdjust="spacingAndGlyphs" stroke="#fff" stroke-width="0.7">0.0%</text>
<text class="ss rg" x="129" y="903.2" font-size="20.5" fill="#fff" text-anchor="start" textLength="31.7" lengthAdjust="spacingAndGlyphs" stroke="#fff" stroke-width="0.7">1.2%</text>
<text class="ss rg" x="203.4" y="903.2" font-size="20.5" fill="#fff" text-anchor="start" textLength="32.1" lengthAdjust="spacingAndGlyphs" stroke="#fff" stroke-width="0.7">0.5%</text>
<text class="ss rg" x="201.2" y="1004.2" font-size="20.5" fill="#fff" text-anchor="start" textLength="32.7" lengthAdjust="spacingAndGlyphs" stroke="#fff" stroke-width="0.7">3.5%</text>
<text class="ss rg" x="275.4" y="1004.2" font-size="20.5" fill="#fff" text-anchor="start" textLength="32.2" lengthAdjust="spacingAndGlyphs" stroke="#fff" stroke-width="0.7">0.8%</text>
<g transform="translate(330.53,641.89) scale(0.11335,0.11335) translate(-40,-52)"><g><path d="M45,60 H105 C130,60 140,95 160,140 C175,185 195,212 225,216" fill="none" stroke="#000" stroke-width="17" stroke-linejoin="round"/><path d="M185,122 H395 L300,216 H218 Z" fill="#dcdcdc" stroke="#000" stroke-width="9" stroke-linejoin="round"/><path d="M183,122 C190,95 215,85 235,75 C255,60 275,72 295,66 C320,55 345,62 360,80 C380,90 392,105 397,122 Z" fill="#000"/><circle cx="248" cy="234" r="40" fill="#ece7f4" stroke="#000" stroke-width="9"/><circle cx="248" cy="234" r="13" fill="#000"/></g></g>
<g transform="translate(382.90,643.71) scale(0.11335,0.11335) translate(-502,-68)"><g><rect x="505" y="68" width="163" height="258" fill="#000"/><rect x="500" y="148" width="8" height="6" fill="#ece7f4"/><rect x="500" y="243" width="8" height="6" fill="#ece7f4"/><rect x="665" y="148" width="8" height="6" fill="#ece7f4"/><rect x="665" y="243" width="8" height="6" fill="#ece7f4"/><circle cx="587" cy="196" r="41" fill="#fff"/><path d="M587,165 C605,190 608,200 608,207 A21,21 0 0 1 566,207 C566,200 569,190 587,165 Z" fill="#000"/></g></g>
<g transform="translate(337.34,678.17) scale(0.11335,0.11335) translate(-100,-372)"><g fill="#000"><path d="M128,442 C135,420 160,410 180,405 L200,378 L225,392 L262,372 L285,390 L320,385 L345,405 C362,412 372,425 376,442 Z"/><path d="M150,430 L185,418 L205,396 L232,408 L262,385" fill="none" stroke="#fff" stroke-width="7"/><rect x="100" y="460" width="300" height="24" rx="4"/><path d="M120,484 H380 L335,592 H280 L270,612 H232 L222,592 H168 Z"/><circle cx="180" cy="623" r="33"/><circle cx="318" cy="623" r="33"/><circle cx="180" cy="623" r="14" fill="#fff"/><circle cx="318" cy="623" r="14" fill="#fff"/></g></g>
<g transform="translate(374.74,679.98) scale(0.11335,0.11335) translate(-430,-388)"><g><path d="M432,520 L500,405 C520,385 560,385 600,398 L735,540 C740,570 725,590 700,595 L530,645 C500,648 470,630 440,570 Z" fill="#000"/><path d="M462,500 L520,420" stroke="#bdbdbd" stroke-width="17" stroke-linecap="round" stroke-dasharray="9 7"/><path d="M492,520 L560,425" stroke="#bdbdbd" stroke-width="17" stroke-linecap="round" stroke-dasharray="9 7"/><path d="M455,545 L500,470" stroke="#bdbdbd" stroke-width="17" stroke-linecap="round" stroke-dasharray="9 7"/><path d="M540,430 L600,470" stroke="#bdbdbd" stroke-width="17" stroke-linecap="round" stroke-dasharray="9 7"/><path d="M585,415 L640,465" stroke="#bdbdbd" stroke-width="17" stroke-linecap="round" stroke-dasharray="9 7"/><circle cx="575" cy="495" r="22" fill="#d2d2d2"/><circle cx="640" cy="482" r="20" fill="#d2d2d2"/><circle cx="540" cy="548" r="22" fill="#d2d2d2"/><circle cx="606" cy="540" r="19" fill="#d2d2d2"/><circle cx="680" cy="517" r="20" fill="#d2d2d2"/><circle cx="520" cy="606" r="20" fill="#d2d2d2"/><circle cx="585" cy="592" r="20" fill="#d2d2d2"/><circle cx="650" cy="577" r="20" fill="#d2d2d2"/><circle cx="708" cy="563" r="17" fill="#d2d2d2"/></g></g>
<g transform="translate(37.03,737.71) scale(0.11335,0.11335) translate(-62,-68)"><g><rect x="150" y="68" width="43" height="28" fill="#000"/><path d="M156,98 H188 V118 C225,135 240,150 240,175 V335 H105 V175 C105,150 120,135 156,118 Z" fill="#fff" stroke="#000" stroke-width="8" stroke-linejoin="round"/><rect x="116" y="262" width="100" height="7" fill="#8a8a8a"/><rect x="116" y="277" width="100" height="7" fill="#8a8a8a"/><rect x="116" y="292" width="100" height="7" fill="#8a8a8a"/><ellipse cx="135" cy="366" rx="68" ry="38" fill="#000"/><path d="M85,352 C110,335 160,335 185,350" fill="none" stroke="#fff" stroke-width="5"/><ellipse cx="268" cy="346" rx="64" ry="38" fill="#000" transform="rotate(28 268 346)"/><path d="M232,318 C260,318 300,345 312,372" fill="none" stroke="#fff" stroke-width="5"/><path d="M62,372 l12,-10 l2,14 Z" fill="#000"/></g></g>
<g transform="translate(78.18,735.10) scale(0.11335,0.11335) translate(-425,-45)"><g><rect x="503" y="45" width="48" height="30" fill="#000"/><path d="M510,78 H546 V150 L628,325 C640,360 620,385 590,385 H470 C440,385 420,360 432,325 L510,150 Z" fill="#fff" stroke="#000" stroke-width="9" stroke-linejoin="round"/><path d="M492,195 H560 L600,300 C612,345 600,372 575,376 H472 C445,376 432,355 442,328 Z" fill="#161616"/><rect x="460" y="388" width="142" height="8" fill="#000"/></g></g>
<g transform="translate(41.34,787.02) scale(0.11335,0.11335) translate(-100,-503)"><g><rect x="130" y="532" width="193" height="188" rx="16" fill="#fff" stroke="#000" stroke-width="19"/><rect x="145.5" y="503" width="13" height="24" fill="#000"/><rect x="145.5" y="724" width="13" height="24" fill="#000"/><rect x="100" y="545.5" width="26" height="13" fill="#000"/><rect x="327" y="545.5" width="26" height="13" fill="#000"/><rect x="170.5" y="503" width="13" height="24" fill="#000"/><rect x="170.5" y="724" width="13" height="24" fill="#000"/><rect x="100" y="570.5" width="26" height="13" fill="#000"/><rect x="327" y="570.5" width="26" height="13" fill="#000"/><rect x="195.5" y="503" width="13" height="24" fill="#000"/><rect x="195.5" y="724" width="13" height="24" fill="#000"/><rect x="100" y="595.5" width="26" height="13" fill="#000"/><rect x="327" y="595.5" width="26" height="13" fill="#000"/><rect x="220.5" y="503" width="13" height="24" fill="#000"/><rect x="220.5" y="724" width="13" height="24" fill="#000"/><rect x="100" y="620.5" width="26" height="13" fill="#000"/><rect x="327" y="620.5" width="26" height="13" fill="#000"/><rect x="245.5" y="503" width="13" height="24" fill="#000"/><rect x="245.5" y="724" width="13" height="24" fill="#000"/><rect x="100" y="645.5" width="26" height="13" fill="#000"/><rect x="327" y="645.5" width="26" height="13" fill="#000"/><rect x="270.5" y="503" width="13" height="24" fill="#000"/><rect x="270.5" y="724" width="13" height="24" fill="#000"/><rect x="100" y="670.5" width="26" height="13" fill="#000"/><rect x="327" y="670.5" width="26" height="13" fill="#000"/><rect x="295.5" y="503" width="13" height="24" fill="#000"/><rect x="295.5" y="724" width="13" height="24" fill="#000"/><rect x="100" y="695.5" width="26" height="13" fill="#000"/><rect x="327" y="695.5" width="26" height="13" fill="#000"/><g fill="none" stroke="#000" stroke-width="8.5"><path d="M160,580 H190 L210,560 H250 M160,610 H185 M230,590 L215,605 V625 L235,645 H290 M300,560 V600 L275,620 M160,680 H215 L235,665 M300,690 V650 L270,630 M260,700 H290"/><circle cx="205" cy="608" r="9" fill="#fff"/><circle cx="268" cy="628" r="9" fill="#fff"/><circle cx="238" cy="665" r="9" fill="#fff"/><circle cx="258" cy="560" r="9" fill="#fff"/></g></g></g>
<g transform="translate(74.89,783.96) scale(0.11335,0.11335) translate(-396,-476)"><g stroke="#000" stroke-linejoin="round"><path d="M400,615 L655,480 L770,500 L580,640 Z" fill="#fff" stroke-width="11"/><path d="M580,640 L770,500 V572 L580,745 Z" fill="#fff" stroke-width="11"/><path d="M400,615 L580,640 V745 L400,720 Z" fill="#fff" stroke-width="11"/><g fill="none" stroke-width="10"><path d="M440,608 L670,492 M470,618 L700,497 M505,624 L725,505 M540,630 L748,512"/><path d="M455,600 C520,590 600,540 660,500 M500,612 C560,600 650,545 720,510" stroke-width="12"/><path d="M600,645 L765,525 M600,672 L765,548 M600,700 L765,565"/><path d="M410,640 C450,640 520,660 575,660 M410,665 C440,650 520,670 575,690 M410,695 C450,690 520,715 575,722"/><ellipse cx="470" cy="680" rx="38" ry="16" stroke-width="8"/><ellipse cx="470" cy="680" rx="16" ry="6" fill="#000"/></g></g></g>
<g transform="translate(340.45,840.72) scale(0.10831,0.10831) translate(-78,-62)"><g fill="#000"><rect x="138" y="62" width="40" height="30" rx="4"/><path d="M112,90 H204 C225,100 228,130 222,150 C215,175 232,200 230,240 H85 C83,200 100,175 93,150 C87,130 90,100 112,90 Z"/><rect x="80" y="238" width="152" height="124" rx="6"/><rect x="100" y="255" width="114" height="92" fill="#a9a9a9"/><path d="M110,335 L150,280 L175,310 L195,270 L210,340 Z" fill="#555"/><rect x="105" y="258" width="100" height="12" fill="#e8e8e8"/></g></g>
<g transform="translate(366.01,850.57) scale(0.10831,0.10831) translate(-314,-153)"><g fill="#000"><path d="M392,196 H528 L545,218 L672,172 L698,186 L690,205 L665,200 L600,292 L588,306 H405 L384,272 Z"/><path d="M320,160 L395,190 L388,262 L316,218 Z M340,190 L342,212 L372,232 L376,205 Z" fill-rule="evenodd"/><rect x="438" y="155" width="58" height="14" rx="5"/><rect x="456" y="165" width="24" height="32"/><path d="M680,228 C695,250 698,258 698,264 A18,18 0 0 1 662,264 C662,258 665,250 680,228 Z"/></g></g>
<g transform="translate(340.66,878.41) scale(0.10831,0.10831) translate(-80,-410)"><g><rect x="80" y="410" width="192" height="306" rx="42" fill="#000"/><rect x="100" y="470" width="155" height="190" fill="#ece7f4"/><rect x="143" y="426" width="68" height="8" rx="4" fill="#fff"/><circle cx="174" cy="694" r="12" fill="#fff"/></g></g>
<g transform="translate(366.44,878.19) scale(0.10831,0.10831) translate(-318,-408)"><g fill="#000"><rect x="318" y="408" width="410" height="38" rx="16"/><rect x="345" y="440" width="34" height="222"/><rect x="390" y="466" width="136" height="30"/><rect x="546" y="446" width="154" height="220" fill="#ece7f4" stroke="#000" stroke-width="13"/><rect x="546" y="518" width="154" height="12"/><rect x="546" y="590" width="154" height="12"/><circle cx="623" cy="482" r="9"/><circle cx="623" cy="555" r="9"/><circle cx="623" cy="625" r="9"/></g></g>
<g transform="translate(43.20,939.40) scale(0.05199,0.05307) translate(-98,-98)"><g fill="#000"><path d="M402,175 C335,85 205,80 140,158 C215,118 320,128 392,205 Z"/><path d="M394,200 C300,135 150,145 98,255 C165,190 285,180 375,232 Z"/><path d="M378,215 C270,185 135,230 148,335 L182,372 C168,292 250,245 355,268 Z"/><g transform="translate(800,0) scale(-1,1)"><path d="M402,175 C335,85 205,80 140,158 C215,118 320,128 392,205 Z"/><path d="M394,200 C300,135 150,145 98,255 C165,190 285,180 375,232 Z"/><path d="M378,215 C270,185 135,230 148,335 L182,372 C168,292 250,245 355,268 Z"/></g><path d="M383,250 L427,250 L441,635 L364,635 Z"/><ellipse cx="402" cy="238" rx="52" ry="42"/><circle cx="352" cy="262" r="20"/><circle cx="452" cy="256" r="18"/></g></g>
<g transform="translate(78.80,940.00) scale(0.05683,0.05520) translate(-97,-85)"><g fill="#000"><rect x="135" y="85" width="46" height="320"/><path d="M97,398 H325 V250 L505,396 V250 L697,398 V585 H97 Z"/><rect x="170" y="440" width="40" height="38" fill="#ece7f4"/><rect x="170" y="515" width="40" height="38" fill="#ece7f4"/><rect x="252" y="440" width="40" height="38" fill="#ece7f4"/><rect x="252" y="515" width="40" height="38" fill="#ece7f4"/><rect x="335" y="440" width="40" height="38" fill="#ece7f4"/><rect x="335" y="515" width="40" height="38" fill="#ece7f4"/><rect x="418" y="440" width="40" height="38" fill="#ece7f4"/><rect x="418" y="515" width="40" height="38" fill="#ece7f4"/><rect x="501" y="440" width="40" height="38" fill="#ece7f4"/><rect x="501" y="515" width="40" height="38" fill="#ece7f4"/><rect x="584" y="440" width="40" height="38" fill="#ece7f4"/><rect x="584" y="515" width="40" height="38" fill="#ece7f4"/></g></g>
<g transform="translate(26.20,973.30) scale(0.05776,0.05783) translate(-55,-88)"><g fill="#000"><path d="M165,488 q35,-26 70,0 q35,-26 70,0 q35,-26 70,0 q35,-26 70,0 q35,-26 70,0 q35,-26 70,0 q35,-26 70,0 q35,-26 70,0" fill="none" stroke="#000" stroke-width="19"/><path d="M165,536 q35,-26 70,0 q35,-26 70,0 q35,-26 70,0 q35,-26 70,0 q35,-26 70,0 q35,-26 70,0 q35,-26 70,0 q35,-26 70,0" fill="none" stroke="#000" stroke-width="19"/><rect x="262" y="385" width="83" height="62"/><rect x="405" y="385" width="80" height="62"/><rect x="550" y="385" width="80" height="62"/><rect x="262" y="327" width="368" height="46"/><rect x="240" y="289" width="415" height="27"/><rect x="240" y="195" width="215" height="78"/><rect x="248" y="138" width="195" height="60"/><rect x="280" y="152" width="26" height="24" fill="#e5e5e5"/><rect x="338" y="152" width="62" height="24" fill="#9a9a9a"/><rect x="340" y="220" width="22" height="20" fill="#d8d8d8"/><rect x="380" y="220" width="22" height="20" fill="#d8d8d8"/><rect x="420" y="220" width="22" height="20" fill="#d8d8d8"/><path d="M65,90 H268 L442,150 V168 L262,108 H65 Z"/><rect x="110" y="95" width="14" height="8" fill="#d0d0d0"/><rect x="150" y="95" width="14" height="8" fill="#d0d0d0"/><rect x="190" y="95" width="14" height="8" fill="#d0d0d0"/><rect x="228" y="95" width="14" height="8" fill="#d0d0d0"/><rect x="70" y="100" width="7" height="135"/><circle cx="76" cy="270" r="15" fill="none" stroke="#000" stroke-width="8"/><rect x="68" y="232" width="16" height="25"/><path d="M538,160 H582 L618,289 H498 Z"/><path d="M548,205 H572 L560,180 Z M540,250 H580 L560,222 Z" fill="#e5e5e5"/><path d="M558,98 L570,125 L566,158 H552 L546,125 Z"/></g></g>
<g transform="translate(87.30,976.30) scale(0.04520,0.05901) translate(-110,-112)"><g fill="none" stroke="#000" stroke-width="22" stroke-linejoin="round"><path d="M270,255 H122 V350 H270"/><rect x="270" y="215" width="185" height="180" rx="48"/><path d="M455,255 H520 C610,255 660,320 660,430 H535 C535,370 515,342 455,342"/><path d="M365,215 V172" stroke-width="24"/><path d="M265,122 C320,135 410,135 465,122 C495,122 495,168 465,168 C410,155 320,155 265,168 C235,168 235,122 265,122 Z" stroke-width="18"/><path d="M595,508 C640,560 652,580 652,598 A57,52 0 0 1 538,598 C538,580 550,560 595,508 Z"/></g></g>
<g transform="translate(64.60,987.20) scale(0.05326,0.05324) translate(-160,-100)"><g fill="none" stroke="#000" stroke-linejoin="round"><rect x="180" y="655" width="420" height="46" fill="#000" stroke="none"/><path d="M284,660 L378,112 M496,660 L402,112" stroke-width="24"/><path d="M378,100 H402 V140 H378 Z" fill="#000" stroke="none"/><path d="M300,640 L465,540 L330,465 L440,395 L350,330 L420,265 L365,205" stroke-width="10"/><path d="M230,245 L290,195 H490 L550,245 Z M160,385 L250,325 H530 L620,385 Z" stroke-width="11"/><path d="M262,245 L290,195 L318,245 L345,195 M435,195 L462,245 L490,195 L518,245 M205,385 L250,325 L290,385 L330,325 M450,325 L490,385 L530,325 L575,385" stroke-width="7"/><path d="M245,247 v18 M535,247 v18 M195,387 v20 M585,387 v20" stroke-width="12"/></g></g>
<text class="ss" x="500.2" y="611" font-size="18" fill="#6430a0" text-anchor="start" textLength="220.7" lengthAdjust="spacingAndGlyphs" stroke="#6430a0" stroke-width="0.4">PPI SELECTED COUNTRIES</text>
<path d="M499.2,631.3 H746.4 L696,659.0 L746.4,686.7 H499.2 Z" fill="#fdeada" stroke="#ccc1da" stroke-width="3" stroke-linejoin="round"/><path d="M501.2,633.5 H741.4 L693.8,659.0 L741.4,684.5" fill="none" stroke="#5e4e44" stroke-opacity="0.75" stroke-width="1.9" filter="url(#blur1)"/><path d="M716.2,694.3 H469 L518.6,720.75 L469,747.2 H716.2 Z" fill="#fdeada" stroke="#ccc1da" stroke-width="3" stroke-linejoin="round"/><path d="M714.2,696.5 H474 L520.8000000000001,720.75 L474,745.0" fill="none" stroke="#5e4e44" stroke-opacity="0.75" stroke-width="1.9" filter="url(#blur1)"/><path d="M499.2,754.6 H746.4 L696,782.8 L746.4,811 H499.2 Z" fill="#fdeada" stroke="#fce6d6" stroke-width="3" stroke-linejoin="round"/><path d="M501.2,756.8000000000001 H741.4 L693.8,782.8 L741.4,808.8" fill="none" stroke="#5e4e44" stroke-opacity="0.75" stroke-width="1.9" filter="url(#blur1)"/><path d="M716.2,816.8 H468.2 L519.3,844.5 L468.2,872.2 H716.2 Z" fill="#fdeada" stroke="#fce6d6" stroke-width="3" stroke-linejoin="round"/><path d="M714.2,819.0 H473.2 L521.5,844.5 L473.2,870.0" fill="none" stroke="#5e4e44" stroke-opacity="0.75" stroke-width="1.9" filter="url(#blur1)"/><path d="M499.2,878.3 H746.4 L696,905.9 L746.4,933.5 H499.2 Z" fill="#fdeada" stroke="#fce6d6" stroke-width="3" stroke-linejoin="round"/><path d="M501.2,880.5 H741.4 L693.8,905.9 L741.4,931.3" fill="none" stroke="#5e4e44" stroke-opacity="0.75" stroke-width="1.9" filter="url(#blur1)"/><path d="M716.2,939.3 H468.2 L519.3,967.25 L468.2,995.2 H716.2 Z" fill="#fdeada" stroke="#fce6d6" stroke-width="3" stroke-linejoin="round"/><path d="M714.2,941.5 H473.2 L521.5,967.25 L473.2,993.0" fill="none" stroke="#5e4e44" stroke-opacity="0.75" stroke-width="1.9" filter="url(#blur1)"/><rect x="447.8" y="635.4" width="70.8" height="45.3" fill="#fff" filter="url(#fsh)"/><svg x="448.8" y="636.4" width="68.8" height="43.3" viewBox="0 0 68.8 43.3" preserveAspectRatio="none" overflow="hidden"><rect width="68.80000000000001" height="43.30000000000007" fill="#de2910"/><polygon points="11.00,4.60 12.47,8.98 17.09,9.02 13.38,11.77 14.76,16.18 11.00,13.50 7.24,16.18 8.62,11.77 4.91,9.02 9.53,8.98" fill="#ffde00"/><polygon points="22.50,2.40 23.00,3.81 24.50,3.85 23.31,4.76 23.73,6.20 22.50,5.35 21.27,6.20 21.69,4.76 20.50,3.85 22.00,3.81" fill="#ffde00"/><polygon points="27.00,6.90 27.50,8.31 29.00,8.35 27.81,9.26 28.23,10.70 27.00,9.85 25.77,10.70 26.19,9.26 25.00,8.35 26.50,8.31" fill="#ffde00"/><polygon points="27.00,13.40 27.50,14.81 29.00,14.85 27.81,15.76 28.23,17.20 27.00,16.35 25.77,17.20 26.19,15.76 25.00,14.85 26.50,14.81" fill="#ffde00"/><polygon points="22.50,17.90 23.00,19.31 24.50,19.35 23.31,20.26 23.73,21.70 22.50,20.85 21.27,21.70 21.69,20.26 20.50,19.35 22.00,19.31" fill="#ffde00"/></svg>
<rect x="696.8" y="695.8" width="72.0" height="46.6" fill="#fff" filter="url(#fsh)"/><svg x="697.8" y="696.8" width="70.0" height="44.6" viewBox="0 0 70.0 44.6" preserveAspectRatio="none" overflow="hidden"><rect width="70.0" height="44.60000000000002" fill="#fe0000"/><rect width="35.0" height="22.3" fill="#000095"/><polygon points="17.50,3.15 18.69,6.71 21.50,4.22 20.75,7.90 24.43,7.15 21.94,9.96 25.50,11.15 21.94,12.34 24.43,15.15 20.75,14.40 21.50,18.08 18.69,15.59 17.50,19.15 16.31,15.59 13.50,18.08 14.25,14.40 10.57,15.15 13.06,12.34 9.50,11.15 13.06,9.96 10.57,7.15 14.25,7.90 13.50,4.22 16.31,6.71" fill="#fff"/><circle cx="17.5" cy="11.150000000000006" r="4.4" fill="#000095"/><circle cx="17.5" cy="11.150000000000006" r="3.7" fill="#fff"/></svg>
<rect x="447.8" y="757.9" width="71.8" height="45.5" fill="#fff" filter="url(#fsh)"/><svg x="448.8" y="758.9" width="69.8" height="43.5" viewBox="0 0 69.8 43.5" preserveAspectRatio="none" overflow="hidden"><rect width="69.80000000000001" height="43.5" fill="#fff"/><rect width="69.80000000000001" height="7.25" fill="#dd1122"/><rect y="36.25" width="69.80000000000001" height="7.25" fill="#dd1122"/><rect y="14.50" width="69.80000000000001" height="14.50" fill="#00247d"/></svg>
<rect x="696.3" y="821.6" width="72.5" height="45.8" fill="#fff" filter="url(#fsh)"/><svg x="697.3" y="822.6" width="70.5" height="43.8" viewBox="0 0 70.5 43.8" preserveAspectRatio="none" overflow="hidden"><rect width="70.5" height="43.799999999999955" fill="#fff"/><g transform="rotate(33.7 35.25 21.899999999999977)"><path d="M24.25,21.899999999999977 A11,11 0 0 1 46.25,21.899999999999977 Z" fill="#cd2e3a"/><path d="M24.25,21.899999999999977 A11,11 0 0 0 46.25,21.899999999999977 Z" fill="#0047a0"/><circle cx="29.75" cy="21.899999999999977" r="5.5" fill="#cd2e3a"/><circle cx="40.75" cy="21.899999999999977" r="5.5" fill="#0047a0"/></g><g transform="rotate(33.7 35.25 21.899999999999977)"><rect x="18.1" y="16.699999999999978" width="1.8" height="10.4" fill="#111"/><rect x="15.2" y="16.699999999999978" width="1.8" height="10.4" fill="#111"/><rect x="12.2" y="16.699999999999978" width="1.8" height="10.4" fill="#111"/></g><g transform="rotate(-33.7 35.25 21.899999999999977)"><rect x="18.1" y="16.699999999999978" width="1.8" height="10.4" fill="#111"/><rect x="15.2" y="16.699999999999978" width="1.8" height="10.4" fill="#111"/><rect x="12.2" y="16.699999999999978" width="1.8" height="10.4" fill="#111"/></g><g transform="rotate(213.7 35.25 21.899999999999977)"><rect x="18.1" y="16.699999999999978" width="1.8" height="10.4" fill="#111"/><rect x="15.2" y="16.699999999999978" width="1.8" height="10.4" fill="#111"/><rect x="12.2" y="16.699999999999978" width="1.8" height="10.4" fill="#111"/></g><g transform="rotate(146.3 35.25 21.899999999999977)"><rect x="18.1" y="16.699999999999978" width="1.8" height="10.4" fill="#111"/><rect x="15.2" y="16.699999999999978" width="1.8" height="10.4" fill="#111"/><rect x="12.2" y="16.699999999999978" width="1.8" height="10.4" fill="#111"/></g></svg>
<rect x="449.8" y="880.3" width="72.2" height="46.1" fill="#fff" filter="url(#fsh)"/><svg x="450.8" y="881.3" width="70.2" height="44.1" viewBox="0 0 70.2 44.1" preserveAspectRatio="none" overflow="hidden"><rect width="70.19999999999999" height="44.10000000000002" fill="#012169"/><path d="M0,0 L70.19999999999999,44.10000000000002 M70.19999999999999,0 L0,44.10000000000002" stroke="#fff" stroke-width="9"/><path d="M0,0 L70.19999999999999,44.10000000000002 M70.19999999999999,0 L0,44.10000000000002" stroke="#c8102e" stroke-width="3.2"/><path d="M35.099999999999994,0 V44.10000000000002 M0,22.05000000000001 H70.19999999999999" stroke="#fff" stroke-width="14"/><path d="M35.099999999999994,0 V44.10000000000002 M0,22.05000000000001 H70.19999999999999" stroke="#c8102e" stroke-width="8.4"/></svg>
<rect x="697.5" y="943.8" width="71.3" height="43.6" fill="#fff" filter="url(#fsh)"/><svg x="698.5" y="944.8" width="69.3" height="41.6" viewBox="0 0 69.3 41.6" preserveAspectRatio="none" overflow="hidden"><rect width="69.29999999999995" height="41.60000000000002" fill="#fff"/><rect y="0.00" width="69.29999999999995" height="3.20" fill="#c60c1a"/><rect y="6.40" width="69.29999999999995" height="3.20" fill="#c60c1a"/><rect y="12.80" width="69.29999999999995" height="3.20" fill="#c60c1a"/><rect y="19.20" width="69.29999999999995" height="3.20" fill="#c60c1a"/><rect y="25.60" width="69.29999999999995" height="3.20" fill="#c60c1a"/><rect y="32.00" width="69.29999999999995" height="3.20" fill="#c60c1a"/><rect y="38.40" width="69.29999999999995" height="3.20" fill="#c60c1a"/><rect width="34.0" height="22.40" fill="#141f6b"/><circle cx="2.60" cy="2.60" r="0.95" fill="#fff"/><circle cx="6.71" cy="2.60" r="0.95" fill="#fff"/><circle cx="10.82" cy="2.60" r="0.95" fill="#fff"/><circle cx="14.92" cy="2.60" r="0.95" fill="#fff"/><circle cx="19.03" cy="2.60" r="0.95" fill="#fff"/><circle cx="23.14" cy="2.60" r="0.95" fill="#fff"/><circle cx="27.25" cy="2.60" r="0.95" fill="#fff"/><circle cx="31.36" cy="2.60" r="0.95" fill="#fff"/><circle cx="2.60" cy="6.90" r="0.95" fill="#fff"/><circle cx="6.71" cy="6.90" r="0.95" fill="#fff"/><circle cx="10.82" cy="6.90" r="0.95" fill="#fff"/><circle cx="14.92" cy="6.90" r="0.95" fill="#fff"/><circle cx="19.03" cy="6.90" r="0.95" fill="#fff"/><circle cx="23.14" cy="6.90" r="0.95" fill="#fff"/><circle cx="27.25" cy="6.90" r="0.95" fill="#fff"/><circle cx="31.36" cy="6.90" r="0.95" fill="#fff"/><circle cx="2.60" cy="11.20" r="0.95" fill="#fff"/><circle cx="6.71" cy="11.20" r="0.95" fill="#fff"/><circle cx="10.82" cy="11.20" r="0.95" fill="#fff"/><circle cx="14.92" cy="11.20" r="0.95" fill="#fff"/><circle cx="19.03" cy="11.20" r="0.95" fill="#fff"/><circle cx="23.14" cy="11.20" r="0.95" fill="#fff"/><circle cx="27.25" cy="11.20" r="0.95" fill="#fff"/><circle cx="31.36" cy="11.20" r="0.95" fill="#fff"/><circle cx="2.60" cy="15.50" r="0.95" fill="#fff"/><circle cx="6.71" cy="15.50" r="0.95" fill="#fff"/><circle cx="10.82" cy="15.50" r="0.95" fill="#fff"/><circle cx="14.92" cy="15.50" r="0.95" fill="#fff"/><circle cx="19.03" cy="15.50" r="0.95" fill="#fff"/><circle cx="23.14" cy="15.50" r="0.95" fill="#fff"/><circle cx="27.25" cy="15.50" r="0.95" fill="#fff"/><circle cx="31.36" cy="15.50" r="0.95" fill="#fff"/><circle cx="2.60" cy="19.80" r="0.95" fill="#fff"/><circle cx="6.71" cy="19.80" r="0.95" fill="#fff"/><circle cx="10.82" cy="19.80" r="0.95" fill="#fff"/><circle cx="14.92" cy="19.80" r="0.95" fill="#fff"/><circle cx="19.03" cy="19.80" r="0.95" fill="#fff"/><circle cx="23.14" cy="19.80" r="0.95" fill="#fff"/><circle cx="27.25" cy="19.80" r="0.95" fill="#fff"/><circle cx="31.36" cy="19.80" r="0.95" fill="#fff"/></svg>
<text class="ss" x="573.5" y="655.3" font-size="14" fill="#4e3f7c" text-anchor="start" textLength="67.1" lengthAdjust="spacingAndGlyphs" stroke="#4e3f7c" stroke-width="0.3">P.R. China</text>
<text class="ss" x="582.3" y="717" font-size="14" fill="#4e3f7c" text-anchor="start" textLength="52.0" lengthAdjust="spacingAndGlyphs" stroke="#4e3f7c" stroke-width="0.3">Taiwan</text>
<text class="ss" x="580.3" y="782" font-size="14" fill="#4e3f7c" text-anchor="start" textLength="59.5" lengthAdjust="spacingAndGlyphs" stroke="#4e3f7c" stroke-width="0.3">Thailand</text>
<text class="ss" x="544.5" y="839.5" font-size="14" fill="#4e3f7c" text-anchor="start" textLength="123.1" lengthAdjust="spacingAndGlyphs" stroke="#4e3f7c" stroke-width="0.3">Republic of Korea</text>
<text class="ss" x="552.8" y="901.5" font-size="14" fill="#4e3f7c" text-anchor="start" textLength="111.7" lengthAdjust="spacingAndGlyphs" stroke="#4e3f7c" stroke-width="0.3">United Kingdom</text>
<text class="ss" x="518" y="963.7" font-size="14" fill="#4e3f7c" text-anchor="start" textLength="171.2" lengthAdjust="spacingAndGlyphs" stroke="#4e3f7c" stroke-width="0.3">United States of America</text>
<text class="ss rg" x="590.6" y="679.2" font-size="22.3" fill="#e36c09" text-anchor="start" textLength="41.7" lengthAdjust="spacingAndGlyphs" stroke="#e36c09" stroke-width="0.6">-0.5%</text>
<text class="ss rg" x="590" y="739.6" font-size="22.3" fill="#e36c09" text-anchor="start" textLength="42.3" lengthAdjust="spacingAndGlyphs" stroke="#e36c09" stroke-width="0.6">-3.4%</text>
<text class="ss rg" x="590.6" y="804.2" font-size="22.3" fill="#e36c09" text-anchor="start" textLength="41.4" lengthAdjust="spacingAndGlyphs" stroke="#e36c09" stroke-width="0.6">-0.3%</text>
<text class="ss rg" x="593" y="863.4" font-size="22.3" fill="#e36c09" text-anchor="start" textLength="36.3" lengthAdjust="spacingAndGlyphs" stroke="#e36c09" stroke-width="0.6">0.7%</text>
<text class="ss rg" x="594" y="925.4" font-size="22.3" fill="#e36c09" text-anchor="start" textLength="36.5" lengthAdjust="spacingAndGlyphs" stroke="#e36c09" stroke-width="0.6">0.9%</text>
<text class="ss rg" x="597.4" y="985.9" font-size="22.3" fill="#e36c09" text-anchor="start" textLength="31.9" lengthAdjust="spacingAndGlyphs" stroke="#e36c09" stroke-width="0.6">1.3%</text>
<text class="ss rg" x="503" y="1016.6" font-size="12" fill="#6a6a6a" textLength="215.7" lengthAdjust="spacingAndGlyphs" xml:space="preserve">Source  : https://tradingeconomics.com</text>
<rect x="0" y="1034" width="794" height="47" fill="url(#gFoot)"/><text class="ss" x="84" y="1065" font-size="14" fill="#fff" textLength="626.4" lengthAdjust="spacingAndGlyphs" xml:space="preserve">Source :  Producer Price Index Local Production (2010=100), Department of Statistics Malaysia</text>

</svg>
</body></html>
